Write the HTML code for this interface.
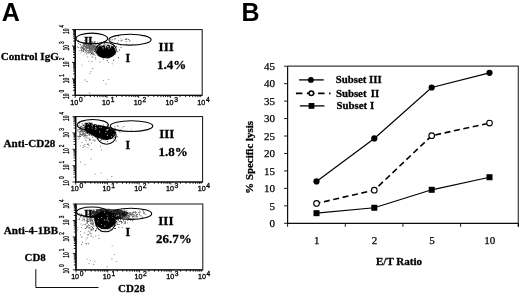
<!DOCTYPE html>
<html><head><meta charset="utf-8"><style>
html,body{margin:0;padding:0;background:#fff;width:520px;height:293px;overflow:hidden}
svg{display:block;will-change:transform}
</style></head><body>
<svg width="520" height="293" viewBox="0 0 520 293">
<defs><filter id="bl" x="0" y="0" width="520" height="293" filterUnits="userSpaceOnUse"><feGaussianBlur stdDeviation="0.35"/></filter></defs>
<rect width="520" height="293" fill="#fff"/>
<g filter="url(#bl)">
<text x="1.7" y="20.8" font-family='"Liberation Sans", sans-serif' font-weight="bold" font-size="25">A</text>
<text x="241.5" y="20.8" font-family='"Liberation Sans", sans-serif' font-weight="bold" font-size="25">B</text>
<rect x="75.2" y="29.6" width="126.99999999999999" height="65.69999999999999" fill="none" stroke="#111" stroke-width="1.0"/>
<line x1="75.2" y1="29.6" x2="75.2" y2="95.3" stroke="#000" stroke-width="1.3"/>
<line x1="75.2" y1="95.3" x2="202.2" y2="95.3" stroke="#000" stroke-width="0.9"/>
<path d="M72.0 95.30H75.2M75.20 95.3V97.9M73.0 90.36H75.2M84.76 95.3V97.1M73.0 87.46H75.2M90.35 95.3V97.1M73.0 85.41H75.2M94.32 95.3V97.1M73.0 83.82H75.2M97.39 95.3V97.1M73.0 82.52H75.2M99.91 95.3V97.1M73.0 81.42H75.2M102.03 95.3V97.1M73.0 80.47H75.2M103.87 95.3V97.1M73.0 79.63H75.2M105.50 95.3V97.1M72.0 78.88H75.2M106.95 95.3V97.9M73.0 73.93H75.2M116.51 95.3V97.1M73.0 71.04H75.2M122.10 95.3V97.1M73.0 68.99H75.2M126.07 95.3V97.1M73.0 67.39H75.2M129.14 95.3V97.1M73.0 66.09H75.2M131.66 95.3V97.1M73.0 64.99H75.2M133.78 95.3V97.1M73.0 64.04H75.2M135.62 95.3V97.1M73.0 63.20H75.2M137.25 95.3V97.1M72.0 62.45H75.2M138.70 95.3V97.9M73.0 57.51H75.2M148.26 95.3V97.1M73.0 54.61H75.2M153.85 95.3V97.1M73.0 52.56H75.2M157.82 95.3V97.1M73.0 50.97H75.2M160.89 95.3V97.1M73.0 49.67H75.2M163.41 95.3V97.1M73.0 48.57H75.2M165.53 95.3V97.1M73.0 47.62H75.2M167.37 95.3V97.1M73.0 46.78H75.2M169.00 95.3V97.1M72.0 46.03H75.2M170.45 95.3V97.9M73.0 41.08H75.2M180.01 95.3V97.1M73.0 38.19H75.2M185.60 95.3V97.1M73.0 36.14H75.2M189.57 95.3V97.1M73.0 34.54H75.2M192.64 95.3V97.1M73.0 33.24H75.2M195.16 95.3V97.1M73.0 32.14H75.2M197.28 95.3V97.1M73.0 31.19H75.2M199.12 95.3V97.1M73.0 30.35H75.2M200.75 95.3V97.1M72.0 29.60H75.2" stroke="#000" stroke-width="0.85" fill="none"/>
<g transform="translate(76.50 104.70) scale(1.05 1)"><text x="0" y="0" font-family='"Liberation Sans", sans-serif' font-size="6.8" stroke="#000" stroke-width="0.3" text-anchor="middle" fill="#000">10<tspan font-size="6.4" dx="0.6" dy="-3.0">0</tspan></text></g>
<g transform="translate(68.8 96.20) rotate(-90) scale(0.6 1)"><text x="0" y="0" font-family='"Liberation Sans", sans-serif' font-size="8.2" stroke="#000" stroke-width="0.3" text-anchor="middle" fill="#000">10</text></g>
<g transform="translate(64.3 91.10) rotate(-90) scale(0.62 1)"><text x="0" y="0" font-family='"Liberation Sans", sans-serif' font-size="7.6" stroke="#000" stroke-width="0.3" text-anchor="middle" fill="#000">0</text></g>
<g transform="translate(108.25 104.70) scale(1.05 1)"><text x="0" y="0" font-family='"Liberation Sans", sans-serif' font-size="6.8" stroke="#000" stroke-width="0.3" text-anchor="middle" fill="#000">10<tspan font-size="6.4" dx="0.6" dy="-3.0">1</tspan></text></g>
<g transform="translate(68.8 80.58) rotate(-90) scale(0.6 1)"><text x="0" y="0" font-family='"Liberation Sans", sans-serif' font-size="8.2" stroke="#000" stroke-width="0.3" text-anchor="middle" fill="#000">10</text></g>
<g transform="translate(64.3 75.47) rotate(-90) scale(0.62 1)"><text x="0" y="0" font-family='"Liberation Sans", sans-serif' font-size="7.6" stroke="#000" stroke-width="0.3" text-anchor="middle" fill="#000">1</text></g>
<g transform="translate(140.00 104.70) scale(1.05 1)"><text x="0" y="0" font-family='"Liberation Sans", sans-serif' font-size="6.8" stroke="#000" stroke-width="0.3" text-anchor="middle" fill="#000">10<tspan font-size="6.4" dx="0.6" dy="-3.0">2</tspan></text></g>
<g transform="translate(68.8 64.15) rotate(-90) scale(0.6 1)"><text x="0" y="0" font-family='"Liberation Sans", sans-serif' font-size="8.2" stroke="#000" stroke-width="0.3" text-anchor="middle" fill="#000">10</text></g>
<g transform="translate(64.3 59.05) rotate(-90) scale(0.62 1)"><text x="0" y="0" font-family='"Liberation Sans", sans-serif' font-size="7.6" stroke="#000" stroke-width="0.3" text-anchor="middle" fill="#000">2</text></g>
<g transform="translate(171.75 104.70) scale(1.05 1)"><text x="0" y="0" font-family='"Liberation Sans", sans-serif' font-size="6.8" stroke="#000" stroke-width="0.3" text-anchor="middle" fill="#000">10<tspan font-size="6.4" dx="0.6" dy="-3.0">3</tspan></text></g>
<g transform="translate(68.8 47.73) rotate(-90) scale(0.6 1)"><text x="0" y="0" font-family='"Liberation Sans", sans-serif' font-size="8.2" stroke="#000" stroke-width="0.3" text-anchor="middle" fill="#000">10</text></g>
<g transform="translate(64.3 42.63) rotate(-90) scale(0.62 1)"><text x="0" y="0" font-family='"Liberation Sans", sans-serif' font-size="7.6" stroke="#000" stroke-width="0.3" text-anchor="middle" fill="#000">3</text></g>
<g transform="translate(203.50 104.70) scale(1.05 1)"><text x="0" y="0" font-family='"Liberation Sans", sans-serif' font-size="6.8" stroke="#000" stroke-width="0.3" text-anchor="middle" fill="#000">10<tspan font-size="6.4" dx="0.6" dy="-3.0">4</tspan></text></g>
<g transform="translate(68.8 31.30) rotate(-90) scale(0.6 1)"><text x="0" y="0" font-family='"Liberation Sans", sans-serif' font-size="8.2" stroke="#000" stroke-width="0.3" text-anchor="middle" fill="#000">10</text></g>
<g transform="translate(64.3 26.20) rotate(-90) scale(0.62 1)"><text x="0" y="0" font-family='"Liberation Sans", sans-serif' font-size="7.6" stroke="#000" stroke-width="0.3" text-anchor="middle" fill="#000">4</text></g>
<text x="0.8" y="59.8" font-family='"Liberation Serif", serif' font-weight="bold" stroke="#000" stroke-width="0.28" font-size="11.1">Control IgG</text>
<text x="158.6" y="50.80" font-family='"Liberation Serif", serif' font-weight="bold" stroke="#000" stroke-width="0.28" font-size="13">III</text>
<text x="156.9" y="68.50" font-family='"Liberation Serif", serif' font-weight="bold" stroke="#000" stroke-width="0.28" font-size="13">1.4%</text>
<text x="125.4" y="62.00" font-family='"Liberation Serif", serif' font-weight="bold" stroke="#000" stroke-width="0.28" font-size="12">I</text>
<rect x="75.7" y="116.6" width="126.89999999999999" height="65.4" fill="none" stroke="#111" stroke-width="1.0"/>
<line x1="75.7" y1="116.6" x2="75.7" y2="182.0" stroke="#000" stroke-width="1.3"/>
<line x1="75.7" y1="182.0" x2="202.6" y2="182.0" stroke="#000" stroke-width="0.9"/>
<path d="M72.5 182.00H75.7M75.70 182.0V184.6M73.5 177.08H75.7M85.25 182.0V183.8M73.5 174.20H75.7M90.84 182.0V183.8M73.5 172.16H75.7M94.80 182.0V183.8M73.5 170.57H75.7M97.87 182.0V183.8M73.5 169.28H75.7M100.39 182.0V183.8M73.5 168.18H75.7M102.51 182.0V183.8M73.5 167.23H75.7M104.35 182.0V183.8M73.5 166.40H75.7M105.97 182.0V183.8M72.5 165.65H75.7M107.42 182.0V184.6M73.5 160.73H75.7M116.98 182.0V183.8M73.5 157.85H75.7M122.56 182.0V183.8M73.5 155.81H75.7M126.53 182.0V183.8M73.5 154.22H75.7M129.60 182.0V183.8M73.5 152.93H75.7M132.11 182.0V183.8M73.5 151.83H75.7M134.24 182.0V183.8M73.5 150.88H75.7M136.08 182.0V183.8M73.5 150.05H75.7M137.70 182.0V183.8M72.5 149.30H75.7M139.15 182.0V184.6M73.5 144.38H75.7M148.70 182.0V183.8M73.5 141.50H75.7M154.29 182.0V183.8M73.5 139.46H75.7M158.25 182.0V183.8M73.5 137.87H75.7M161.32 182.0V183.8M73.5 136.58H75.7M163.84 182.0V183.8M73.5 135.48H75.7M165.96 182.0V183.8M73.5 134.53H75.7M167.80 182.0V183.8M73.5 133.70H75.7M169.42 182.0V183.8M72.5 132.95H75.7M170.88 182.0V184.6M73.5 128.03H75.7M180.43 182.0V183.8M73.5 125.15H75.7M186.01 182.0V183.8M73.5 123.11H75.7M189.98 182.0V183.8M73.5 121.52H75.7M193.05 182.0V183.8M73.5 120.23H75.7M195.56 182.0V183.8M73.5 119.13H75.7M197.69 182.0V183.8M73.5 118.18H75.7M199.53 182.0V183.8M73.5 117.35H75.7M201.15 182.0V183.8M72.5 116.60H75.7" stroke="#000" stroke-width="0.85" fill="none"/>
<g transform="translate(77.00 191.40) scale(1.05 1)"><text x="0" y="0" font-family='"Liberation Sans", sans-serif' font-size="6.8" stroke="#000" stroke-width="0.3" text-anchor="middle" fill="#000">10<tspan font-size="6.4" dx="0.6" dy="-3.0">0</tspan></text></g>
<g transform="translate(68.8 182.90) rotate(-90) scale(0.6 1)"><text x="0" y="0" font-family='"Liberation Sans", sans-serif' font-size="8.2" stroke="#000" stroke-width="0.3" text-anchor="middle" fill="#000">10</text></g>
<g transform="translate(64.3 177.80) rotate(-90) scale(0.62 1)"><text x="0" y="0" font-family='"Liberation Sans", sans-serif' font-size="7.6" stroke="#000" stroke-width="0.3" text-anchor="middle" fill="#000">0</text></g>
<g transform="translate(108.72 191.40) scale(1.05 1)"><text x="0" y="0" font-family='"Liberation Sans", sans-serif' font-size="6.8" stroke="#000" stroke-width="0.3" text-anchor="middle" fill="#000">10<tspan font-size="6.4" dx="0.6" dy="-3.0">1</tspan></text></g>
<g transform="translate(68.8 167.35) rotate(-90) scale(0.6 1)"><text x="0" y="0" font-family='"Liberation Sans", sans-serif' font-size="8.2" stroke="#000" stroke-width="0.3" text-anchor="middle" fill="#000">10</text></g>
<g transform="translate(64.3 162.25) rotate(-90) scale(0.62 1)"><text x="0" y="0" font-family='"Liberation Sans", sans-serif' font-size="7.6" stroke="#000" stroke-width="0.3" text-anchor="middle" fill="#000">1</text></g>
<g transform="translate(140.45 191.40) scale(1.05 1)"><text x="0" y="0" font-family='"Liberation Sans", sans-serif' font-size="6.8" stroke="#000" stroke-width="0.3" text-anchor="middle" fill="#000">10<tspan font-size="6.4" dx="0.6" dy="-3.0">2</tspan></text></g>
<g transform="translate(68.8 151.00) rotate(-90) scale(0.6 1)"><text x="0" y="0" font-family='"Liberation Sans", sans-serif' font-size="8.2" stroke="#000" stroke-width="0.3" text-anchor="middle" fill="#000">10</text></g>
<g transform="translate(64.3 145.90) rotate(-90) scale(0.62 1)"><text x="0" y="0" font-family='"Liberation Sans", sans-serif' font-size="7.6" stroke="#000" stroke-width="0.3" text-anchor="middle" fill="#000">2</text></g>
<g transform="translate(172.18 191.40) scale(1.05 1)"><text x="0" y="0" font-family='"Liberation Sans", sans-serif' font-size="6.8" stroke="#000" stroke-width="0.3" text-anchor="middle" fill="#000">10<tspan font-size="6.4" dx="0.6" dy="-3.0">3</tspan></text></g>
<g transform="translate(68.8 134.65) rotate(-90) scale(0.6 1)"><text x="0" y="0" font-family='"Liberation Sans", sans-serif' font-size="8.2" stroke="#000" stroke-width="0.3" text-anchor="middle" fill="#000">10</text></g>
<g transform="translate(64.3 129.55) rotate(-90) scale(0.62 1)"><text x="0" y="0" font-family='"Liberation Sans", sans-serif' font-size="7.6" stroke="#000" stroke-width="0.3" text-anchor="middle" fill="#000">3</text></g>
<g transform="translate(203.90 191.40) scale(1.05 1)"><text x="0" y="0" font-family='"Liberation Sans", sans-serif' font-size="6.8" stroke="#000" stroke-width="0.3" text-anchor="middle" fill="#000">10<tspan font-size="6.4" dx="0.6" dy="-3.0">4</tspan></text></g>
<g transform="translate(68.8 118.30) rotate(-90) scale(0.6 1)"><text x="0" y="0" font-family='"Liberation Sans", sans-serif' font-size="8.2" stroke="#000" stroke-width="0.3" text-anchor="middle" fill="#000">10</text></g>
<g transform="translate(64.3 113.20) rotate(-90) scale(0.62 1)"><text x="0" y="0" font-family='"Liberation Sans", sans-serif' font-size="7.6" stroke="#000" stroke-width="0.3" text-anchor="middle" fill="#000">4</text></g>
<text x="3.6" y="146.6" font-family='"Liberation Serif", serif' font-weight="bold" stroke="#000" stroke-width="0.28" font-size="11.1">Anti-CD28</text>
<text x="159.2" y="137.80" font-family='"Liberation Serif", serif' font-weight="bold" stroke="#000" stroke-width="0.28" font-size="13">III</text>
<text x="158.6" y="155.50" font-family='"Liberation Serif", serif' font-weight="bold" stroke="#000" stroke-width="0.28" font-size="13">1.8%</text>
<text x="125.4" y="149.00" font-family='"Liberation Serif", serif' font-weight="bold" stroke="#000" stroke-width="0.28" font-size="12">I</text>
<rect x="76.0" y="204.0" width="126.79999999999998" height="65.89999999999998" fill="none" stroke="#111" stroke-width="1.0"/>
<line x1="76.0" y1="204.0" x2="76.0" y2="269.9" stroke="#000" stroke-width="1.3"/>
<line x1="76.0" y1="269.9" x2="202.79999999999998" y2="269.9" stroke="#000" stroke-width="0.9"/>
<path d="M72.8 269.90H76.0M76.00 269.9V272.5M73.8 264.94H76.0M85.54 269.9V271.7M73.8 262.04H76.0M91.12 269.9V271.7M73.8 259.98H76.0M95.09 269.9V271.7M73.8 258.38H76.0M98.16 269.9V271.7M73.8 257.08H76.0M100.67 269.9V271.7M73.8 255.98H76.0M102.79 269.9V271.7M73.8 255.02H76.0M104.63 269.9V271.7M73.8 254.18H76.0M106.25 269.9V271.7M72.8 253.42H76.0M107.70 269.9V272.5M73.8 248.47H76.0M117.24 269.9V271.7M73.8 245.56H76.0M122.82 269.9V271.7M73.8 243.51H76.0M126.79 269.9V271.7M73.8 241.91H76.0M129.86 269.9V271.7M73.8 240.60H76.0M132.37 269.9V271.7M73.8 239.50H76.0M134.49 269.9V271.7M73.8 238.55H76.0M136.33 269.9V271.7M73.8 237.70H76.0M137.95 269.9V271.7M72.8 236.95H76.0M139.40 269.9V272.5M73.8 231.99H76.0M148.94 269.9V271.7M73.8 229.09H76.0M154.52 269.9V271.7M73.8 227.03H76.0M158.49 269.9V271.7M73.8 225.43H76.0M161.56 269.9V271.7M73.8 224.13H76.0M164.07 269.9V271.7M73.8 223.03H76.0M166.19 269.9V271.7M73.8 222.07H76.0M168.03 269.9V271.7M73.8 221.23H76.0M169.65 269.9V271.7M72.8 220.47H76.0M171.10 269.9V272.5M73.8 215.52H76.0M180.64 269.9V271.7M73.8 212.61H76.0M186.22 269.9V271.7M73.8 210.56H76.0M190.19 269.9V271.7M73.8 208.96H76.0M193.26 269.9V271.7M73.8 207.65H76.0M195.77 269.9V271.7M73.8 206.55H76.0M197.89 269.9V271.7M73.8 205.60H76.0M199.73 269.9V271.7M73.8 204.75H76.0M201.35 269.9V271.7M72.8 204.00H76.0" stroke="#000" stroke-width="0.85" fill="none"/>
<g transform="translate(77.30 279.30) scale(1.05 1)"><text x="0" y="0" font-family='"Liberation Sans", sans-serif' font-size="6.8" stroke="#000" stroke-width="0.3" text-anchor="middle" fill="#000">10<tspan font-size="6.4" dx="0.6" dy="-3.0">0</tspan></text></g>
<g transform="translate(68.8 270.80) rotate(-90) scale(0.6 1)"><text x="0" y="0" font-family='"Liberation Sans", sans-serif' font-size="8.2" stroke="#000" stroke-width="0.3" text-anchor="middle" fill="#000">10</text></g>
<g transform="translate(64.3 265.70) rotate(-90) scale(0.62 1)"><text x="0" y="0" font-family='"Liberation Sans", sans-serif' font-size="7.6" stroke="#000" stroke-width="0.3" text-anchor="middle" fill="#000">0</text></g>
<g transform="translate(109.00 279.30) scale(1.05 1)"><text x="0" y="0" font-family='"Liberation Sans", sans-serif' font-size="6.8" stroke="#000" stroke-width="0.3" text-anchor="middle" fill="#000">10<tspan font-size="6.4" dx="0.6" dy="-3.0">1</tspan></text></g>
<g transform="translate(68.8 255.12) rotate(-90) scale(0.6 1)"><text x="0" y="0" font-family='"Liberation Sans", sans-serif' font-size="8.2" stroke="#000" stroke-width="0.3" text-anchor="middle" fill="#000">10</text></g>
<g transform="translate(64.3 250.02) rotate(-90) scale(0.62 1)"><text x="0" y="0" font-family='"Liberation Sans", sans-serif' font-size="7.6" stroke="#000" stroke-width="0.3" text-anchor="middle" fill="#000">1</text></g>
<g transform="translate(140.70 279.30) scale(1.05 1)"><text x="0" y="0" font-family='"Liberation Sans", sans-serif' font-size="6.8" stroke="#000" stroke-width="0.3" text-anchor="middle" fill="#000">10<tspan font-size="6.4" dx="0.6" dy="-3.0">2</tspan></text></g>
<g transform="translate(68.8 238.65) rotate(-90) scale(0.6 1)"><text x="0" y="0" font-family='"Liberation Sans", sans-serif' font-size="8.2" stroke="#000" stroke-width="0.3" text-anchor="middle" fill="#000">10</text></g>
<g transform="translate(64.3 233.55) rotate(-90) scale(0.62 1)"><text x="0" y="0" font-family='"Liberation Sans", sans-serif' font-size="7.6" stroke="#000" stroke-width="0.3" text-anchor="middle" fill="#000">2</text></g>
<g transform="translate(172.40 279.30) scale(1.05 1)"><text x="0" y="0" font-family='"Liberation Sans", sans-serif' font-size="6.8" stroke="#000" stroke-width="0.3" text-anchor="middle" fill="#000">10<tspan font-size="6.4" dx="0.6" dy="-3.0">3</tspan></text></g>
<g transform="translate(68.8 222.17) rotate(-90) scale(0.6 1)"><text x="0" y="0" font-family='"Liberation Sans", sans-serif' font-size="8.2" stroke="#000" stroke-width="0.3" text-anchor="middle" fill="#000">10</text></g>
<g transform="translate(64.3 217.07) rotate(-90) scale(0.62 1)"><text x="0" y="0" font-family='"Liberation Sans", sans-serif' font-size="7.6" stroke="#000" stroke-width="0.3" text-anchor="middle" fill="#000">3</text></g>
<g transform="translate(204.10 279.30) scale(1.05 1)"><text x="0" y="0" font-family='"Liberation Sans", sans-serif' font-size="6.8" stroke="#000" stroke-width="0.3" text-anchor="middle" fill="#000">10<tspan font-size="6.4" dx="0.6" dy="-3.0">4</tspan></text></g>
<g transform="translate(68.8 205.70) rotate(-90) scale(0.6 1)"><text x="0" y="0" font-family='"Liberation Sans", sans-serif' font-size="8.2" stroke="#000" stroke-width="0.3" text-anchor="middle" fill="#000">10</text></g>
<g transform="translate(64.3 200.60) rotate(-90) scale(0.62 1)"><text x="0" y="0" font-family='"Liberation Sans", sans-serif' font-size="7.6" stroke="#000" stroke-width="0.3" text-anchor="middle" fill="#000">4</text></g>
<text x="3.8" y="233.6" font-family='"Liberation Serif", serif' font-weight="bold" stroke="#000" stroke-width="0.28" font-size="11.1">Anti-4-1BB</text>
<text x="158.3" y="225.20" font-family='"Liberation Serif", serif' font-weight="bold" stroke="#000" stroke-width="0.28" font-size="13">III</text>
<text x="156.0" y="242.90" font-family='"Liberation Serif", serif' font-weight="bold" stroke="#000" stroke-width="0.28" font-size="13">26.7%</text>
<text x="125.4" y="236.40" font-family='"Liberation Serif", serif' font-weight="bold" stroke="#000" stroke-width="0.28" font-size="12">I</text>
<path d="M89.5 48.8h0.9v0.9h-0.9zM88.1 45.5h0.9v0.9h-0.9zM87.2 45.2h0.9v0.9h-0.9zM89.8 51.8h0.9v0.9h-0.9zM87.0 46.3h0.9v0.9h-0.9zM91.9 49.0h0.9v0.9h-0.9zM90.0 45.4h0.9v0.9h-0.9zM89.4 49.9h0.9v0.9h-0.9zM82.8 46.7h0.9v0.9h-0.9zM80.0 44.4h0.9v0.9h-0.9zM80.3 47.3h0.9v0.9h-0.9zM83.2 48.8h0.9v0.9h-0.9zM90.3 47.5h0.9v0.9h-0.9zM76.9 46.5h0.9v0.9h-0.9zM89.3 48.3h0.9v0.9h-0.9zM81.8 46.7h0.9v0.9h-0.9zM84.6 45.7h0.9v0.9h-0.9zM94.8 45.7h0.9v0.9h-0.9zM89.3 50.5h0.9v0.9h-0.9zM86.6 47.7h0.9v0.9h-0.9zM90.1 48.2h0.9v0.9h-0.9zM83.4 48.2h0.9v0.9h-0.9zM96.3 43.7h0.9v0.9h-0.9zM93.8 48.3h0.9v0.9h-0.9zM86.3 53.6h0.9v0.9h-0.9zM93.3 44.6h0.9v0.9h-0.9zM89.9 49.6h0.9v0.9h-0.9zM88.6 49.9h0.9v0.9h-0.9zM89.2 49.9h0.9v0.9h-0.9zM96.7 46.1h0.9v0.9h-0.9zM90.5 46.7h0.9v0.9h-0.9zM90.1 44.7h0.9v0.9h-0.9zM86.6 47.5h0.9v0.9h-0.9zM94.0 51.2h0.9v0.9h-0.9zM82.9 45.8h0.9v0.9h-0.9zM87.2 47.7h0.9v0.9h-0.9zM95.8 49.9h0.9v0.9h-0.9zM87.9 47.0h0.9v0.9h-0.9zM88.2 52.3h0.9v0.9h-0.9zM87.4 47.1h0.9v0.9h-0.9zM91.3 47.7h0.9v0.9h-0.9zM88.5 44.9h0.9v0.9h-0.9zM89.4 46.8h0.9v0.9h-0.9zM95.3 49.8h0.9v0.9h-0.9zM89.4 49.9h0.9v0.9h-0.9zM87.8 50.9h0.9v0.9h-0.9zM89.5 49.6h0.9v0.9h-0.9zM83.0 49.0h0.9v0.9h-0.9zM88.0 45.5h0.9v0.9h-0.9zM90.3 54.3h0.9v0.9h-0.9zM85.3 46.3h0.9v0.9h-0.9zM90.5 49.4h0.9v0.9h-0.9zM88.6 47.4h0.9v0.9h-0.9zM93.0 49.5h0.9v0.9h-0.9zM84.3 47.8h0.9v0.9h-0.9zM89.7 45.0h0.9v0.9h-0.9zM90.8 45.6h0.9v0.9h-0.9zM94.4 48.5h0.9v0.9h-0.9zM89.9 46.3h0.9v0.9h-0.9zM83.8 49.0h0.9v0.9h-0.9zM78.9 50.4h0.9v0.9h-0.9zM80.8 50.1h0.9v0.9h-0.9zM85.3 50.2h0.9v0.9h-0.9zM90.2 43.7h0.9v0.9h-0.9zM95.7 52.0h0.9v0.9h-0.9zM89.2 47.2h0.9v0.9h-0.9zM88.7 45.3h0.9v0.9h-0.9zM95.0 46.5h0.9v0.9h-0.9zM89.2 45.8h0.9v0.9h-0.9zM86.4 44.4h0.9v0.9h-0.9zM95.8 47.6h0.9v0.9h-0.9zM94.3 48.0h0.9v0.9h-0.9zM86.0 47.1h0.9v0.9h-0.9zM86.7 48.0h0.9v0.9h-0.9zM87.6 47.2h0.9v0.9h-0.9zM82.6 45.7h0.9v0.9h-0.9zM97.8 46.1h0.9v0.9h-0.9zM84.2 48.9h0.9v0.9h-0.9zM96.5 43.9h0.9v0.9h-0.9zM88.5 46.2h0.9v0.9h-0.9zM80.7 50.1h0.9v0.9h-0.9zM89.4 48.2h0.9v0.9h-0.9zM85.7 49.3h0.9v0.9h-0.9zM86.8 47.6h0.9v0.9h-0.9zM84.0 44.6h0.9v0.9h-0.9zM96.2 46.6h0.9v0.9h-0.9zM91.0 47.9h0.9v0.9h-0.9zM87.3 46.6h0.9v0.9h-0.9zM92.7 47.2h0.9v0.9h-0.9zM88.7 48.1h0.9v0.9h-0.9zM95.4 49.9h0.9v0.9h-0.9zM91.4 46.4h0.9v0.9h-0.9zM82.6 50.7h0.9v0.9h-0.9zM94.3 47.6h0.9v0.9h-0.9zM92.2 50.2h0.9v0.9h-0.9zM93.7 50.6h0.9v0.9h-0.9zM87.2 52.2h0.9v0.9h-0.9zM83.3 50.4h0.9v0.9h-0.9zM92.0 50.4h0.9v0.9h-0.9zM98.9 52.2h0.9v0.9h-0.9zM93.6 45.2h0.9v0.9h-0.9zM89.4 50.4h0.9v0.9h-0.9zM90.8 48.1h0.9v0.9h-0.9zM88.3 48.1h0.9v0.9h-0.9zM85.2 43.8h0.9v0.9h-0.9zM88.7 45.3h0.9v0.9h-0.9zM81.3 49.4h0.9v0.9h-0.9zM89.2 49.1h0.9v0.9h-0.9zM84.6 46.2h0.9v0.9h-0.9zM84.5 45.5h0.9v0.9h-0.9zM90.5 45.8h0.9v0.9h-0.9zM91.3 49.0h0.9v0.9h-0.9zM99.6 44.1h0.9v0.9h-0.9zM93.9 47.7h0.9v0.9h-0.9zM89.4 43.9h0.9v0.9h-0.9zM87.2 50.1h0.9v0.9h-0.9zM89.1 48.2h0.9v0.9h-0.9zM88.0 51.2h0.9v0.9h-0.9zM96.2 48.1h0.9v0.9h-0.9zM83.6 45.4h0.9v0.9h-0.9zM95.2 48.4h0.9v0.9h-0.9zM89.7 47.9h0.9v0.9h-0.9zM89.7 50.3h0.9v0.9h-0.9zM92.3 48.6h0.9v0.9h-0.9zM84.3 49.4h0.9v0.9h-0.9zM86.1 51.1h0.9v0.9h-0.9zM83.1 47.6h0.9v0.9h-0.9zM89.5 44.3h0.9v0.9h-0.9zM98.1 52.1h0.9v0.9h-0.9zM87.2 50.2h0.9v0.9h-0.9zM90.8 47.8h0.9v0.9h-0.9zM89.9 45.0h0.9v0.9h-0.9zM88.2 47.5h0.9v0.9h-0.9zM95.4 48.9h0.9v0.9h-0.9zM89.5 52.3h0.9v0.9h-0.9zM86.7 46.9h0.9v0.9h-0.9zM80.4 52.4h0.9v0.9h-0.9zM94.3 50.6h0.9v0.9h-0.9zM92.8 48.3h0.9v0.9h-0.9zM90.6 47.3h0.9v0.9h-0.9zM88.5 48.2h0.9v0.9h-0.9zM97.1 49.6h0.9v0.9h-0.9zM89.2 46.4h0.9v0.9h-0.9zM86.3 52.5h0.9v0.9h-0.9zM92.0 48.2h0.9v0.9h-0.9zM87.8 44.9h0.9v0.9h-0.9zM89.2 50.4h0.9v0.9h-0.9zM87.5 47.4h0.9v0.9h-0.9zM88.4 48.3h0.9v0.9h-0.9zM81.5 47.3h0.9v0.9h-0.9zM85.2 50.5h0.9v0.9h-0.9zM85.6 49.6h0.9v0.9h-0.9zM97.1 47.1h0.9v0.9h-0.9zM86.5 48.5h0.9v0.9h-0.9zM89.5 45.2h0.9v0.9h-0.9zM91.8 53.6h0.9v0.9h-0.9zM88.2 47.4h0.9v0.9h-0.9zM84.3 48.9h0.9v0.9h-0.9zM83.3 44.9h0.9v0.9h-0.9zM95.9 45.5h0.9v0.9h-0.9zM94.9 52.3h0.9v0.9h-0.9zM90.8 49.5h0.9v0.9h-0.9zM99.3 47.4h0.9v0.9h-0.9zM86.5 44.2h0.9v0.9h-0.9zM89.7 52.1h0.9v0.9h-0.9zM94.3 45.4h0.9v0.9h-0.9zM85.2 46.6h0.9v0.9h-0.9zM91.0 47.4h0.9v0.9h-0.9zM90.6 48.8h0.9v0.9h-0.9zM88.0 47.9h0.9v0.9h-0.9zM90.5 47.8h0.9v0.9h-0.9zM92.0 53.2h0.9v0.9h-0.9zM92.5 48.2h0.9v0.9h-0.9zM81.1 49.1h0.9v0.9h-0.9zM79.8 44.1h0.9v0.9h-0.9zM93.8 50.0h0.9v0.9h-0.9zM87.6 46.1h0.9v0.9h-0.9zM92.7 54.3h0.9v0.9h-0.9zM90.6 45.8h0.9v0.9h-0.9zM83.6 47.8h0.9v0.9h-0.9zM88.6 44.8h0.9v0.9h-0.9zM90.1 44.8h0.9v0.9h-0.9zM95.1 51.0h0.9v0.9h-0.9zM94.9 46.7h0.9v0.9h-0.9zM92.1 47.6h0.9v0.9h-0.9zM87.6 47.1h0.9v0.9h-0.9zM83.0 44.0h0.9v0.9h-0.9zM93.5 47.5h0.9v0.9h-0.9zM90.6 50.8h0.9v0.9h-0.9zM80.8 45.8h0.9v0.9h-0.9zM90.4 49.1h0.9v0.9h-0.9zM87.6 50.9h0.9v0.9h-0.9zM90.6 44.6h0.9v0.9h-0.9zM84.8 50.3h0.9v0.9h-0.9zM96.2 49.7h0.9v0.9h-0.9zM96.2 46.9h0.9v0.9h-0.9zM88.0 44.8h0.9v0.9h-0.9zM102.2 47.5h0.9v0.9h-0.9zM97.4 46.2h0.9v0.9h-0.9zM90.3 43.3h0.9v0.9h-0.9zM87.6 50.8h0.9v0.9h-0.9zM83.2 51.0h0.9v0.9h-0.9zM91.2 45.1h0.9v0.9h-0.9zM87.0 46.7h0.9v0.9h-0.9zM89.3 46.5h0.9v0.9h-0.9zM85.4 47.1h0.9v0.9h-0.9zM84.4 44.4h0.9v0.9h-0.9zM89.3 50.5h0.9v0.9h-0.9zM81.9 48.0h0.9v0.9h-0.9zM86.3 45.3h0.9v0.9h-0.9zM93.8 46.5h0.9v0.9h-0.9zM97.0 45.8h0.9v0.9h-0.9zM91.4 47.4h0.9v0.9h-0.9zM85.7 49.6h0.9v0.9h-0.9zM88.7 49.7h0.9v0.9h-0.9zM89.3 45.0h0.9v0.9h-0.9zM89.0 48.1h0.9v0.9h-0.9zM94.3 45.5h0.9v0.9h-0.9zM92.8 45.0h0.9v0.9h-0.9zM80.5 47.8h0.9v0.9h-0.9zM95.0 43.7h0.9v0.9h-0.9zM84.1 45.9h0.9v0.9h-0.9zM83.9 49.1h0.9v0.9h-0.9zM85.5 46.0h0.9v0.9h-0.9zM92.4 45.9h0.9v0.9h-0.9zM91.7 45.3h0.9v0.9h-0.9zM98.8 47.1h0.9v0.9h-0.9zM90.7 47.9h0.9v0.9h-0.9zM90.3 48.1h0.9v0.9h-0.9zM99.0 45.1h0.9v0.9h-0.9zM81.7 45.2h0.9v0.9h-0.9zM82.8 50.1h0.9v0.9h-0.9zM93.6 45.3h0.9v0.9h-0.9zM82.5 47.0h0.9v0.9h-0.9zM92.1 45.0h0.9v0.9h-0.9zM94.7 45.0h0.9v0.9h-0.9zM88.1 43.8h0.9v0.9h-0.9zM84.6 51.9h0.9v0.9h-0.9zM93.6 46.9h0.9v0.9h-0.9zM87.5 47.9h0.9v0.9h-0.9zM89.1 47.7h0.9v0.9h-0.9zM83.9 47.8h0.9v0.9h-0.9zM89.3 51.6h0.9v0.9h-0.9zM98.8 47.6h0.9v0.9h-0.9zM85.7 47.8h0.9v0.9h-0.9zM86.5 45.9h0.9v0.9h-0.9zM89.2 45.1h0.9v0.9h-0.9zM92.5 47.7h0.9v0.9h-0.9zM90.8 47.5h0.9v0.9h-0.9zM85.9 45.3h0.9v0.9h-0.9zM88.3 46.5h0.9v0.9h-0.9zM90.7 48.0h0.9v0.9h-0.9zM82.7 48.2h0.9v0.9h-0.9zM82.8 46.3h0.9v0.9h-0.9zM90.0 48.4h0.9v0.9h-0.9zM88.7 46.8h0.9v0.9h-0.9zM87.6 45.3h0.9v0.9h-0.9zM88.2 46.5h0.9v0.9h-0.9zM90.0 44.6h0.9v0.9h-0.9zM90.7 48.4h0.9v0.9h-0.9zM88.8 46.8h0.9v0.9h-0.9zM92.3 43.3h0.9v0.9h-0.9zM91.8 48.7h0.9v0.9h-0.9zM90.9 49.1h0.9v0.9h-0.9zM86.2 47.3h0.9v0.9h-0.9zM92.7 49.2h0.9v0.9h-0.9zM90.5 43.8h0.9v0.9h-0.9zM92.2 51.3h0.9v0.9h-0.9zM94.5 48.7h0.9v0.9h-0.9zM81.7 50.6h0.9v0.9h-0.9zM91.4 43.8h0.9v0.9h-0.9zM83.0 46.2h0.9v0.9h-0.9zM95.9 47.0h0.9v0.9h-0.9zM90.9 52.9h0.9v0.9h-0.9zM97.5 47.7h0.9v0.9h-0.9zM88.3 44.5h0.9v0.9h-0.9zM86.0 49.2h0.9v0.9h-0.9zM91.5 48.3h0.9v0.9h-0.9zM94.5 45.8h0.9v0.9h-0.9zM89.2 50.0h0.9v0.9h-0.9zM92.4 51.0h0.9v0.9h-0.9zM91.5 47.1h0.9v0.9h-0.9zM91.3 45.2h0.9v0.9h-0.9zM81.3 49.6h0.9v0.9h-0.9zM89.2 48.9h0.9v0.9h-0.9zM81.0 47.0h0.9v0.9h-0.9zM86.5 45.6h0.9v0.9h-0.9zM78.2 47.1h0.9v0.9h-0.9zM94.0 49.1h0.9v0.9h-0.9zM86.5 48.0h0.9v0.9h-0.9zM88.9 49.5h0.9v0.9h-0.9zM92.9 52.8h0.9v0.9h-0.9zM95.2 48.9h0.9v0.9h-0.9zM91.0 50.2h0.9v0.9h-0.9zM86.8 47.9h0.9v0.9h-0.9zM94.0 53.5h0.9v0.9h-0.9zM88.7 47.9h0.9v0.9h-0.9zM90.5 51.8h0.9v0.9h-0.9zM89.3 52.1h0.9v0.9h-0.9zM84.7 47.5h0.9v0.9h-0.9zM88.5 50.2h0.9v0.9h-0.9zM94.7 43.8h0.9v0.9h-0.9zM82.5 43.0h0.9v0.9h-0.9zM84.0 40.2h0.9v0.9h-0.9zM94.2 43.2h0.9v0.9h-0.9zM91.0 41.8h0.9v0.9h-0.9zM94.2 42.1h0.9v0.9h-0.9zM94.6 41.1h0.9v0.9h-0.9zM82.9 42.8h0.9v0.9h-0.9zM83.8 43.5h0.9v0.9h-0.9zM89.6 41.1h0.9v0.9h-0.9zM88.4 42.0h0.9v0.9h-0.9zM93.5 41.6h0.9v0.9h-0.9zM85.4 44.3h0.9v0.9h-0.9zM101.4 45.5h0.9v0.9h-0.9zM88.4 42.8h0.9v0.9h-0.9zM97.2 42.3h0.9v0.9h-0.9zM82.1 42.7h0.9v0.9h-0.9zM90.7 41.3h0.9v0.9h-0.9zM78.1 40.3h0.9v0.9h-0.9zM92.0 41.4h0.9v0.9h-0.9zM87.2 42.8h0.9v0.9h-0.9zM91.7 42.0h0.9v0.9h-0.9zM91.0 41.2h0.9v0.9h-0.9zM85.8 41.0h0.9v0.9h-0.9zM94.8 42.5h0.9v0.9h-0.9zM83.6 42.0h0.9v0.9h-0.9zM86.7 43.6h0.9v0.9h-0.9zM78.4 40.9h0.9v0.9h-0.9zM85.7 46.3h0.9v0.9h-0.9zM93.7 42.3h0.9v0.9h-0.9zM92.3 45.6h0.9v0.9h-0.9zM86.6 42.0h0.9v0.9h-0.9zM95.3 43.2h0.9v0.9h-0.9zM92.0 41.7h0.9v0.9h-0.9zM99.5 45.1h0.9v0.9h-0.9zM91.4 43.5h0.9v0.9h-0.9zM86.8 43.2h0.9v0.9h-0.9zM92.1 42.0h0.9v0.9h-0.9zM77.9 43.1h0.9v0.9h-0.9zM83.6 42.0h0.9v0.9h-0.9zM84.4 42.0h0.9v0.9h-0.9zM89.5 44.2h0.9v0.9h-0.9zM99.9 42.5h0.9v0.9h-0.9zM77.2 41.2h0.9v0.9h-0.9zM80.8 41.7h0.9v0.9h-0.9zM88.5 39.5h0.9v0.9h-0.9zM90.1 40.2h0.9v0.9h-0.9zM89.8 42.3h0.9v0.9h-0.9zM86.1 42.4h0.9v0.9h-0.9zM92.7 51.7h0.9v0.9h-0.9zM83.5 54.4h0.9v0.9h-0.9zM111.8 63.4h0.9v0.9h-0.9zM107.6 57.7h0.9v0.9h-0.9zM91.6 61.0h0.9v0.9h-0.9zM96.6 54.2h0.9v0.9h-0.9zM94.7 54.9h0.9v0.9h-0.9zM93.5 54.1h0.9v0.9h-0.9zM88.3 52.8h0.9v0.9h-0.9zM115.2 54.2h0.9v0.9h-0.9zM95.1 56.9h0.9v0.9h-0.9zM102.7 49.5h0.9v0.9h-0.9zM95.3 58.6h0.9v0.9h-0.9zM99.2 55.0h0.9v0.9h-0.9zM109.4 51.5h0.9v0.9h-0.9zM97.7 52.2h0.9v0.9h-0.9zM108.9 45.7h0.9v0.9h-0.9zM91.6 52.1h0.9v0.9h-0.9zM102.3 57.2h0.9v0.9h-0.9zM108.2 47.4h0.9v0.9h-0.9zM103.0 53.2h0.9v0.9h-0.9zM91.7 56.9h0.9v0.9h-0.9zM89.6 45.2h0.9v0.9h-0.9zM94.0 47.8h0.9v0.9h-0.9zM91.8 56.2h0.9v0.9h-0.9zM99.5 61.6h0.9v0.9h-0.9zM95.4 47.6h0.9v0.9h-0.9zM91.0 50.4h0.9v0.9h-0.9zM87.3 56.5h0.9v0.9h-0.9zM91.8 45.6h0.9v0.9h-0.9zM102.6 54.0h0.9v0.9h-0.9zM99.9 55.0h0.9v0.9h-0.9zM102.1 54.7h0.9v0.9h-0.9zM106.9 56.4h0.9v0.9h-0.9zM100.1 56.3h0.9v0.9h-0.9zM86.6 81.1h0.9v0.9h-0.9zM88.4 60.7h0.9v0.9h-0.9zM89.5 73.2h0.9v0.9h-0.9zM108.2 79.2h0.9v0.9h-0.9zM92.3 68.1h0.9v0.9h-0.9zM90.3 71.3h0.9v0.9h-0.9zM103.1 80.2h0.9v0.9h-0.9zM84.6 79.6h0.9v0.9h-0.9zM81.4 64.7h0.9v0.9h-0.9zM105.6 83.5h0.9v0.9h-0.9zM108.0 62.2h0.9v0.9h-0.9zM89.2 92.5h0.9v0.9h-0.9zM118.1 39.9h0.9v0.9h-0.9zM115.1 38.3h0.9v0.9h-0.9zM118.1 36.2h0.9v0.9h-0.9zM112.3 39.3h0.9v0.9h-0.9zM121.9 39.7h0.9v0.9h-0.9zM110.4 39.2h0.9v0.9h-0.9zM125.8 41.0h0.9v0.9h-0.9zM120.5 38.4h0.9v0.9h-0.9zM124.8 39.0h0.9v0.9h-0.9zM114.0 38.6h0.9v0.9h-0.9zM129.7 40.4h0.9v0.9h-0.9zM128.0 39.1h0.9v0.9h-0.9zM126.6 38.9h0.9v0.9h-0.9zM120.1 44.5h0.9v0.9h-0.9zM125.6 39.1h0.9v0.9h-0.9zM120.5 40.6h0.9v0.9h-0.9zM128.3 39.1h0.9v0.9h-0.9zM110.6 39.5h0.9v0.9h-0.9zM121.1 40.2h0.9v0.9h-0.9zM128.9 40.6h0.9v0.9h-0.9zM125.9 38.0h0.9v0.9h-0.9zM126.2 43.8h0.9v0.9h-0.9z" fill="#000" opacity="0.6"/>
<ellipse cx="106.00" cy="51.00" rx="9.60" ry="6.60" fill="#000" stroke="#000" stroke-width="0" opacity="1"/>
<path d="M110.9 51.5h0.9v0.9h-0.9zM106.9 57.6h0.9v0.9h-0.9zM99.9 50.1h0.9v0.9h-0.9zM108.9 53.5h0.9v0.9h-0.9zM103.1 51.7h0.9v0.9h-0.9zM104.1 51.0h0.9v0.9h-0.9zM105.0 45.9h0.9v0.9h-0.9zM105.8 54.0h0.9v0.9h-0.9zM99.6 49.5h0.9v0.9h-0.9zM110.2 46.2h0.9v0.9h-0.9zM107.1 46.3h0.9v0.9h-0.9zM113.3 59.8h0.9v0.9h-0.9zM119.0 49.6h0.9v0.9h-0.9zM110.7 51.0h0.9v0.9h-0.9zM106.6 56.7h0.9v0.9h-0.9zM97.3 54.7h0.9v0.9h-0.9zM105.6 56.1h0.9v0.9h-0.9zM107.1 47.8h0.9v0.9h-0.9zM107.7 53.4h0.9v0.9h-0.9zM106.1 52.5h0.9v0.9h-0.9zM102.5 42.0h0.9v0.9h-0.9zM111.8 53.3h0.9v0.9h-0.9zM106.9 50.8h0.9v0.9h-0.9zM112.6 48.7h0.9v0.9h-0.9zM101.3 49.7h0.9v0.9h-0.9zM113.6 45.0h0.9v0.9h-0.9zM113.6 47.9h0.9v0.9h-0.9zM98.7 55.5h0.9v0.9h-0.9zM105.3 45.3h0.9v0.9h-0.9zM103.6 54.2h0.9v0.9h-0.9zM113.6 48.8h0.9v0.9h-0.9zM108.5 53.4h0.9v0.9h-0.9zM101.7 51.9h0.9v0.9h-0.9zM105.7 48.4h0.9v0.9h-0.9zM102.7 50.8h0.9v0.9h-0.9zM106.1 48.2h0.9v0.9h-0.9zM103.1 55.0h0.9v0.9h-0.9zM107.3 54.0h0.9v0.9h-0.9zM113.7 52.9h0.9v0.9h-0.9zM120.7 47.2h0.9v0.9h-0.9zM111.2 49.2h0.9v0.9h-0.9zM118.0 57.3h0.9v0.9h-0.9zM93.2 46.6h0.9v0.9h-0.9zM110.2 53.7h0.9v0.9h-0.9zM110.7 50.2h0.9v0.9h-0.9zM108.9 53.1h0.9v0.9h-0.9zM105.4 54.6h0.9v0.9h-0.9zM91.2 53.0h0.9v0.9h-0.9zM99.2 54.3h0.9v0.9h-0.9zM104.4 46.9h0.9v0.9h-0.9zM108.3 46.9h0.9v0.9h-0.9zM100.0 44.2h0.9v0.9h-0.9zM105.7 52.5h0.9v0.9h-0.9zM112.5 49.9h0.9v0.9h-0.9zM112.7 50.6h0.9v0.9h-0.9zM105.3 52.8h0.9v0.9h-0.9zM112.8 49.1h0.9v0.9h-0.9zM104.3 49.9h0.9v0.9h-0.9zM106.4 46.9h0.9v0.9h-0.9zM112.6 48.9h0.9v0.9h-0.9zM108.9 47.2h0.9v0.9h-0.9zM108.2 52.1h0.9v0.9h-0.9zM103.2 58.6h0.9v0.9h-0.9zM108.3 57.6h0.9v0.9h-0.9zM112.1 47.9h0.9v0.9h-0.9zM103.4 52.2h0.9v0.9h-0.9zM106.3 50.7h0.9v0.9h-0.9zM104.0 43.3h0.9v0.9h-0.9zM104.4 41.6h0.9v0.9h-0.9zM108.3 47.6h0.9v0.9h-0.9zM101.2 49.6h0.9v0.9h-0.9zM107.7 44.8h0.9v0.9h-0.9zM94.5 46.2h0.9v0.9h-0.9zM92.6 46.6h0.9v0.9h-0.9zM116.2 46.3h0.9v0.9h-0.9zM110.1 45.0h0.9v0.9h-0.9zM107.8 49.2h0.9v0.9h-0.9zM105.5 52.8h0.9v0.9h-0.9zM117.3 51.3h0.9v0.9h-0.9zM106.7 46.6h0.9v0.9h-0.9zM109.7 49.5h0.9v0.9h-0.9zM111.3 50.3h0.9v0.9h-0.9zM117.2 42.6h0.9v0.9h-0.9zM104.0 54.0h0.9v0.9h-0.9zM103.6 47.3h0.9v0.9h-0.9zM104.2 45.0h0.9v0.9h-0.9zM106.7 60.3h0.9v0.9h-0.9zM113.3 46.1h0.9v0.9h-0.9zM100.2 48.9h0.9v0.9h-0.9zM112.4 47.2h0.9v0.9h-0.9z" fill="#000" opacity="0.85"/>
<path d="M102.5 47.1h0.9v0.9h-0.9zM110.3 45.6h0.9v0.9h-0.9zM100.4 44.1h0.9v0.9h-0.9zM109.7 45.2h0.9v0.9h-0.9zM108.4 48.2h0.9v0.9h-0.9zM111.9 44.6h0.9v0.9h-0.9zM110.3 47.4h0.9v0.9h-0.9zM102.3 44.9h0.9v0.9h-0.9zM105.5 44.1h0.9v0.9h-0.9zM100.5 45.7h0.9v0.9h-0.9zM104.9 46.2h0.9v0.9h-0.9zM107.4 45.7h0.9v0.9h-0.9zM106.0 45.1h0.9v0.9h-0.9zM106.7 46.3h0.9v0.9h-0.9zM101.4 45.2h0.9v0.9h-0.9zM110.0 46.4h0.9v0.9h-0.9zM102.6 48.4h0.9v0.9h-0.9zM109.9 46.3h0.9v0.9h-0.9zM105.0 45.4h0.9v0.9h-0.9zM104.9 45.3h0.9v0.9h-0.9zM109.7 45.5h0.9v0.9h-0.9zM103.8 44.6h0.9v0.9h-0.9zM105.8 44.9h0.9v0.9h-0.9zM105.1 47.3h0.9v0.9h-0.9zM107.8 46.6h0.9v0.9h-0.9z" fill="#fff" opacity="0.9"/>
<ellipse cx="106.00" cy="50.10" rx="10.20" ry="7.60" fill="none" stroke="#000" stroke-width="1.1" opacity="1"/>
<ellipse cx="91.80" cy="38.50" rx="15.80" ry="5.40" fill="none" stroke="#000" stroke-width="1.1" opacity="1"/>
<ellipse cx="130.00" cy="39.70" rx="21.10" ry="5.45" fill="none" stroke="#000" stroke-width="1.1" opacity="1"/>
<text x="84.2" y="43.50" font-family='"Liberation Serif", serif' font-weight="bold" stroke="#000" stroke-width="0.45" font-size="10.5">II</text>
<path d="M83.4 130.8h0.9v0.9h-0.9zM81.5 129.4h0.9v0.9h-0.9zM85.0 126.3h0.9v0.9h-0.9zM87.4 130.7h0.9v0.9h-0.9zM79.0 128.6h0.9v0.9h-0.9zM79.3 131.2h0.9v0.9h-0.9zM79.1 135.2h0.9v0.9h-0.9zM78.9 121.5h0.9v0.9h-0.9zM79.1 122.6h0.9v0.9h-0.9zM81.8 134.8h0.9v0.9h-0.9zM84.6 125.2h0.9v0.9h-0.9zM79.0 137.7h0.9v0.9h-0.9zM83.3 130.6h0.9v0.9h-0.9zM86.2 140.4h0.9v0.9h-0.9zM87.2 131.2h0.9v0.9h-0.9zM83.4 133.1h0.9v0.9h-0.9zM79.5 126.4h0.9v0.9h-0.9zM82.2 126.8h0.9v0.9h-0.9zM81.8 131.0h0.9v0.9h-0.9zM91.4 127.2h0.9v0.9h-0.9zM81.5 129.9h0.9v0.9h-0.9zM83.7 134.8h0.9v0.9h-0.9zM80.0 127.3h0.9v0.9h-0.9zM84.1 130.8h0.9v0.9h-0.9zM77.9 129.1h0.9v0.9h-0.9zM82.1 132.6h0.9v0.9h-0.9zM79.6 129.6h0.9v0.9h-0.9zM88.5 121.8h0.9v0.9h-0.9zM80.6 131.5h0.9v0.9h-0.9zM80.5 127.4h0.9v0.9h-0.9zM81.8 130.6h0.9v0.9h-0.9zM81.7 123.1h0.9v0.9h-0.9zM81.4 127.2h0.9v0.9h-0.9zM79.8 131.5h0.9v0.9h-0.9zM84.6 134.2h0.9v0.9h-0.9zM80.0 134.3h0.9v0.9h-0.9zM86.7 135.1h0.9v0.9h-0.9zM87.6 130.0h0.9v0.9h-0.9zM81.3 133.9h0.9v0.9h-0.9zM76.5 131.4h0.9v0.9h-0.9zM79.9 129.1h0.9v0.9h-0.9zM81.9 134.2h0.9v0.9h-0.9zM86.0 130.3h0.9v0.9h-0.9zM81.2 127.3h0.9v0.9h-0.9zM83.6 129.6h0.9v0.9h-0.9zM84.4 137.6h0.9v0.9h-0.9zM81.9 124.6h0.9v0.9h-0.9zM78.6 124.8h0.9v0.9h-0.9zM77.2 135.8h0.9v0.9h-0.9zM82.9 124.5h0.9v0.9h-0.9zM84.6 135.6h0.9v0.9h-0.9zM80.6 127.9h0.9v0.9h-0.9zM80.7 131.7h0.9v0.9h-0.9zM84.6 135.3h0.9v0.9h-0.9zM86.8 135.3h0.9v0.9h-0.9zM87.4 133.2h0.9v0.9h-0.9zM83.3 129.1h0.9v0.9h-0.9zM85.6 129.2h0.9v0.9h-0.9zM78.3 136.4h0.9v0.9h-0.9zM84.7 131.5h0.9v0.9h-0.9zM85.7 134.9h0.9v0.9h-0.9zM83.4 120.8h0.9v0.9h-0.9zM79.3 128.8h0.9v0.9h-0.9zM78.1 131.4h0.9v0.9h-0.9zM86.8 128.7h0.9v0.9h-0.9zM77.5 138.7h0.9v0.9h-0.9zM80.2 125.7h0.9v0.9h-0.9zM83.0 132.3h0.9v0.9h-0.9zM79.2 133.8h0.9v0.9h-0.9zM80.1 126.9h0.9v0.9h-0.9zM82.7 133.7h0.9v0.9h-0.9zM79.5 131.9h0.9v0.9h-0.9zM81.6 141.9h0.9v0.9h-0.9zM79.2 136.1h0.9v0.9h-0.9zM81.8 130.1h0.9v0.9h-0.9zM84.9 134.2h0.9v0.9h-0.9zM87.1 131.9h0.9v0.9h-0.9zM79.6 128.4h0.9v0.9h-0.9zM84.0 132.9h0.9v0.9h-0.9zM87.6 132.3h0.9v0.9h-0.9zM86.2 136.7h0.9v0.9h-0.9zM82.7 124.7h0.9v0.9h-0.9zM77.3 124.8h0.9v0.9h-0.9zM88.4 127.2h0.9v0.9h-0.9zM86.9 132.9h0.9v0.9h-0.9zM88.9 134.6h0.9v0.9h-0.9zM81.6 129.8h0.9v0.9h-0.9zM82.3 131.3h0.9v0.9h-0.9zM79.9 130.5h0.9v0.9h-0.9zM88.4 123.8h0.9v0.9h-0.9zM83.0 127.0h0.9v0.9h-0.9zM82.7 134.0h0.9v0.9h-0.9zM81.8 133.7h0.9v0.9h-0.9zM79.6 133.1h0.9v0.9h-0.9zM79.0 131.5h0.9v0.9h-0.9zM88.2 131.7h0.9v0.9h-0.9zM83.0 124.9h0.9v0.9h-0.9zM87.7 137.8h0.9v0.9h-0.9zM82.1 129.7h0.9v0.9h-0.9zM92.8 133.5h0.9v0.9h-0.9zM87.1 132.8h0.9v0.9h-0.9zM78.1 135.9h0.9v0.9h-0.9zM77.1 129.8h0.9v0.9h-0.9zM87.4 146.9h0.9v0.9h-0.9zM88.1 143.9h0.9v0.9h-0.9zM82.2 133.9h0.9v0.9h-0.9zM86.3 137.3h0.9v0.9h-0.9zM79.5 134.0h0.9v0.9h-0.9zM83.5 130.5h0.9v0.9h-0.9zM79.3 131.8h0.9v0.9h-0.9zM86.9 144.0h0.9v0.9h-0.9zM96.0 132.6h0.9v0.9h-0.9zM82.6 147.1h0.9v0.9h-0.9zM84.9 139.6h0.9v0.9h-0.9zM94.5 139.6h0.9v0.9h-0.9zM80.2 133.7h0.9v0.9h-0.9zM87.7 143.4h0.9v0.9h-0.9zM79.1 135.7h0.9v0.9h-0.9zM88.7 145.1h0.9v0.9h-0.9zM82.8 145.3h0.9v0.9h-0.9zM88.9 130.9h0.9v0.9h-0.9zM84.4 144.1h0.9v0.9h-0.9zM83.1 128.8h0.9v0.9h-0.9zM84.6 146.1h0.9v0.9h-0.9zM93.9 128.5h0.9v0.9h-0.9zM99.1 134.8h0.9v0.9h-0.9zM90.8 149.0h0.9v0.9h-0.9zM90.9 142.5h0.9v0.9h-0.9zM80.2 145.4h0.9v0.9h-0.9zM82.4 126.5h0.9v0.9h-0.9zM100.1 145.8h0.9v0.9h-0.9zM106.8 178.9h0.9v0.9h-0.9zM100.9 149.5h0.9v0.9h-0.9zM100.8 172.4h0.9v0.9h-0.9zM111.4 176.0h0.9v0.9h-0.9zM84.6 163.9h0.9v0.9h-0.9zM94.8 173.7h0.9v0.9h-0.9zM80.2 161.6h0.9v0.9h-0.9zM90.7 158.6h0.9v0.9h-0.9zM118.8 131.0h0.9v0.9h-0.9zM115.1 127.9h0.9v0.9h-0.9zM123.6 126.1h0.9v0.9h-0.9zM117.6 126.0h0.9v0.9h-0.9zM119.6 131.9h0.9v0.9h-0.9zM115.2 129.1h0.9v0.9h-0.9zM114.5 126.3h0.9v0.9h-0.9zM112.8 131.5h0.9v0.9h-0.9zM130.8 129.6h0.9v0.9h-0.9zM115.4 130.0h0.9v0.9h-0.9zM117.3 130.2h0.9v0.9h-0.9zM120.5 129.2h0.9v0.9h-0.9zM122.0 127.4h0.9v0.9h-0.9zM117.0 125.2h0.9v0.9h-0.9z" fill="#000" opacity="0.6"/>
<path d="M84.5 126 C88 124.2 96 124.2 102 125.6 C108 127 113 129 115 132.3 C116.5 135.5 113.5 139.5 107 140 C101 140.3 96 137.5 91.5 134.8 C87 133 83.5 130.5 84.5 126Z" fill="#000"/>
<path d="M94.0 123.9h0.9v0.9h-0.9zM96.5 126.6h0.9v0.9h-0.9zM97.6 133.3h0.9v0.9h-0.9zM83.9 124.6h0.9v0.9h-0.9zM87.1 132.4h0.9v0.9h-0.9zM112.9 138.4h0.9v0.9h-0.9zM92.2 136.8h0.9v0.9h-0.9zM80.8 134.6h0.9v0.9h-0.9zM86.7 129.7h0.9v0.9h-0.9zM94.8 131.1h0.9v0.9h-0.9zM83.1 125.0h0.9v0.9h-0.9zM101.4 133.1h0.9v0.9h-0.9zM108.7 133.9h0.9v0.9h-0.9zM83.5 134.3h0.9v0.9h-0.9zM87.3 131.5h0.9v0.9h-0.9zM97.4 126.4h0.9v0.9h-0.9zM94.1 128.1h0.9v0.9h-0.9zM91.5 133.4h0.9v0.9h-0.9zM103.9 129.9h0.9v0.9h-0.9zM87.9 130.5h0.9v0.9h-0.9zM95.1 135.4h0.9v0.9h-0.9zM96.8 130.3h0.9v0.9h-0.9zM89.5 125.3h0.9v0.9h-0.9zM87.6 127.3h0.9v0.9h-0.9zM92.1 133.5h0.9v0.9h-0.9zM93.3 129.4h0.9v0.9h-0.9zM83.5 135.8h0.9v0.9h-0.9zM100.3 140.0h0.9v0.9h-0.9zM103.4 139.3h0.9v0.9h-0.9zM93.9 133.7h0.9v0.9h-0.9zM106.9 141.0h0.9v0.9h-0.9zM100.4 135.3h0.9v0.9h-0.9zM110.1 130.8h0.9v0.9h-0.9zM101.9 128.1h0.9v0.9h-0.9zM90.8 126.9h0.9v0.9h-0.9zM95.4 131.5h0.9v0.9h-0.9zM102.9 125.7h0.9v0.9h-0.9zM115.7 140.5h0.9v0.9h-0.9zM104.6 131.0h0.9v0.9h-0.9zM95.6 133.4h0.9v0.9h-0.9zM102.7 124.4h0.9v0.9h-0.9zM100.8 131.4h0.9v0.9h-0.9zM111.9 128.7h0.9v0.9h-0.9zM97.2 138.1h0.9v0.9h-0.9zM95.4 128.8h0.9v0.9h-0.9zM98.6 129.3h0.9v0.9h-0.9zM113.4 130.3h0.9v0.9h-0.9zM107.0 127.3h0.9v0.9h-0.9zM103.8 132.1h0.9v0.9h-0.9zM86.7 126.8h0.9v0.9h-0.9zM113.5 129.3h0.9v0.9h-0.9zM85.0 135.4h0.9v0.9h-0.9zM96.7 138.3h0.9v0.9h-0.9zM101.1 127.8h0.9v0.9h-0.9zM95.2 136.5h0.9v0.9h-0.9zM106.5 133.1h0.9v0.9h-0.9zM97.6 130.7h0.9v0.9h-0.9zM89.3 138.6h0.9v0.9h-0.9zM98.2 126.0h0.9v0.9h-0.9zM91.5 133.4h0.9v0.9h-0.9zM103.6 131.9h0.9v0.9h-0.9zM90.3 129.8h0.9v0.9h-0.9zM105.5 130.6h0.9v0.9h-0.9zM99.6 137.4h0.9v0.9h-0.9zM103.5 132.6h0.9v0.9h-0.9zM92.7 133.7h0.9v0.9h-0.9zM101.9 128.1h0.9v0.9h-0.9zM97.9 130.5h0.9v0.9h-0.9zM94.6 128.5h0.9v0.9h-0.9zM80.8 126.0h0.9v0.9h-0.9zM96.5 131.5h0.9v0.9h-0.9zM85.0 131.5h0.9v0.9h-0.9zM85.0 127.5h0.9v0.9h-0.9zM110.8 130.8h0.9v0.9h-0.9zM90.8 134.9h0.9v0.9h-0.9zM93.4 128.9h0.9v0.9h-0.9zM98.2 136.3h0.9v0.9h-0.9zM87.9 124.0h0.9v0.9h-0.9zM89.2 125.5h0.9v0.9h-0.9zM100.9 127.7h0.9v0.9h-0.9zM97.8 133.2h0.9v0.9h-0.9zM89.6 130.1h0.9v0.9h-0.9zM113.1 136.0h0.9v0.9h-0.9zM90.7 129.4h0.9v0.9h-0.9zM87.6 130.4h0.9v0.9h-0.9zM106.4 129.2h0.9v0.9h-0.9zM93.8 135.7h0.9v0.9h-0.9zM91.8 130.9h0.9v0.9h-0.9zM87.6 125.2h0.9v0.9h-0.9zM89.8 139.6h0.9v0.9h-0.9zM93.5 127.9h0.9v0.9h-0.9zM91.6 129.2h0.9v0.9h-0.9zM103.2 133.3h0.9v0.9h-0.9zM116.9 136.3h0.9v0.9h-0.9zM110.9 135.3h0.9v0.9h-0.9zM104.3 126.0h0.9v0.9h-0.9zM95.8 130.5h0.9v0.9h-0.9zM106.0 131.2h0.9v0.9h-0.9zM93.0 129.1h0.9v0.9h-0.9zM94.4 132.4h0.9v0.9h-0.9zM85.4 124.4h0.9v0.9h-0.9zM99.7 132.3h0.9v0.9h-0.9zM93.9 127.8h0.9v0.9h-0.9zM88.9 129.1h0.9v0.9h-0.9zM109.5 128.9h0.9v0.9h-0.9zM111.1 138.0h0.9v0.9h-0.9zM91.8 133.6h0.9v0.9h-0.9zM84.8 126.6h0.9v0.9h-0.9zM94.3 128.2h0.9v0.9h-0.9zM103.2 125.9h0.9v0.9h-0.9zM90.9 127.9h0.9v0.9h-0.9zM87.2 129.0h0.9v0.9h-0.9zM102.2 134.8h0.9v0.9h-0.9zM88.0 125.5h0.9v0.9h-0.9zM87.6 131.2h0.9v0.9h-0.9zM93.0 126.6h0.9v0.9h-0.9zM99.4 136.4h0.9v0.9h-0.9zM99.4 136.4h0.9v0.9h-0.9zM97.2 136.8h0.9v0.9h-0.9zM109.3 133.3h0.9v0.9h-0.9zM110.9 134.8h0.9v0.9h-0.9zM98.7 127.2h0.9v0.9h-0.9zM93.4 133.9h0.9v0.9h-0.9zM83.6 131.2h0.9v0.9h-0.9zM100.2 133.0h0.9v0.9h-0.9zM104.1 129.1h0.9v0.9h-0.9zM104.2 129.6h0.9v0.9h-0.9zM107.2 124.8h0.9v0.9h-0.9zM104.0 131.5h0.9v0.9h-0.9zM105.8 128.7h0.9v0.9h-0.9zM88.9 139.7h0.9v0.9h-0.9zM89.5 126.3h0.9v0.9h-0.9zM95.3 126.0h0.9v0.9h-0.9zM107.4 138.4h0.9v0.9h-0.9zM104.0 137.9h0.9v0.9h-0.9zM88.7 128.6h0.9v0.9h-0.9zM107.2 130.2h0.9v0.9h-0.9zM90.0 133.3h0.9v0.9h-0.9zM114.2 137.0h0.9v0.9h-0.9zM84.7 130.2h0.9v0.9h-0.9zM110.9 131.8h0.9v0.9h-0.9zM88.5 134.0h0.9v0.9h-0.9zM99.4 126.5h0.9v0.9h-0.9zM94.0 127.0h0.9v0.9h-0.9zM99.8 132.2h0.9v0.9h-0.9zM107.6 136.6h0.9v0.9h-0.9zM81.3 129.6h0.9v0.9h-0.9zM105.3 135.0h0.9v0.9h-0.9zM107.6 130.8h0.9v0.9h-0.9zM86.8 133.2h0.9v0.9h-0.9zM107.7 130.0h0.9v0.9h-0.9zM95.3 124.3h0.9v0.9h-0.9zM93.1 132.0h0.9v0.9h-0.9zM86.4 123.9h0.9v0.9h-0.9zM103.7 132.2h0.9v0.9h-0.9zM80.2 136.0h0.9v0.9h-0.9zM88.4 130.4h0.9v0.9h-0.9zM97.6 137.7h0.9v0.9h-0.9zM91.6 134.6h0.9v0.9h-0.9zM88.7 134.5h0.9v0.9h-0.9zM89.9 127.9h0.9v0.9h-0.9zM115.2 136.4h0.9v0.9h-0.9zM101.3 128.3h0.9v0.9h-0.9zM105.3 127.4h0.9v0.9h-0.9zM106.9 138.8h0.9v0.9h-0.9zM92.0 127.1h0.9v0.9h-0.9zM98.7 131.5h0.9v0.9h-0.9zM86.9 131.6h0.9v0.9h-0.9zM93.3 129.1h0.9v0.9h-0.9zM101.2 126.3h0.9v0.9h-0.9zM102.9 131.5h0.9v0.9h-0.9zM91.9 123.7h0.9v0.9h-0.9zM85.1 130.2h0.9v0.9h-0.9zM87.5 129.4h0.9v0.9h-0.9zM106.4 137.9h0.9v0.9h-0.9zM112.5 133.0h0.9v0.9h-0.9zM85.4 133.3h0.9v0.9h-0.9zM99.0 136.7h0.9v0.9h-0.9zM96.0 136.4h0.9v0.9h-0.9zM104.6 136.0h0.9v0.9h-0.9zM101.6 133.9h0.9v0.9h-0.9zM99.1 132.6h0.9v0.9h-0.9zM107.2 130.9h0.9v0.9h-0.9zM114.1 134.2h0.9v0.9h-0.9zM106.7 132.8h0.9v0.9h-0.9zM92.7 139.5h0.9v0.9h-0.9zM95.2 124.8h0.9v0.9h-0.9zM90.3 128.2h0.9v0.9h-0.9zM107.1 128.6h0.9v0.9h-0.9zM99.8 134.8h0.9v0.9h-0.9zM115.3 131.8h0.9v0.9h-0.9zM102.6 133.7h0.9v0.9h-0.9zM87.0 128.9h0.9v0.9h-0.9zM102.4 134.7h0.9v0.9h-0.9zM94.0 124.3h0.9v0.9h-0.9zM111.2 135.3h0.9v0.9h-0.9zM105.6 139.4h0.9v0.9h-0.9zM91.1 133.6h0.9v0.9h-0.9zM94.7 130.3h0.9v0.9h-0.9zM96.2 130.9h0.9v0.9h-0.9zM107.8 134.0h0.9v0.9h-0.9zM95.8 129.6h0.9v0.9h-0.9zM101.2 127.9h0.9v0.9h-0.9zM92.1 129.8h0.9v0.9h-0.9zM91.6 129.4h0.9v0.9h-0.9zM89.2 138.7h0.9v0.9h-0.9zM109.6 135.8h0.9v0.9h-0.9zM94.4 140.6h0.9v0.9h-0.9zM100.2 131.4h0.9v0.9h-0.9zM99.7 133.1h0.9v0.9h-0.9zM110.8 133.9h0.9v0.9h-0.9zM104.7 128.1h0.9v0.9h-0.9zM115.1 133.4h0.9v0.9h-0.9zM95.6 135.0h0.9v0.9h-0.9zM110.3 128.8h0.9v0.9h-0.9zM94.9 124.2h0.9v0.9h-0.9zM98.4 130.9h0.9v0.9h-0.9zM94.2 127.4h0.9v0.9h-0.9zM93.9 127.0h0.9v0.9h-0.9zM100.8 138.9h0.9v0.9h-0.9zM92.4 132.4h0.9v0.9h-0.9zM87.8 128.5h0.9v0.9h-0.9zM86.2 132.0h0.9v0.9h-0.9zM98.1 130.6h0.9v0.9h-0.9zM100.9 130.8h0.9v0.9h-0.9zM81.2 130.5h0.9v0.9h-0.9zM100.0 131.0h0.9v0.9h-0.9z" fill="#000" opacity="0.8"/>
<path d="M106.9 134.8h0.9v0.9h-0.9zM91.9 125.5h0.9v0.9h-0.9zM111.2 136.3h0.9v0.9h-0.9zM95.0 124.9h0.9v0.9h-0.9zM95.3 127.1h0.9v0.9h-0.9zM87.6 127.1h0.9v0.9h-0.9zM90.7 123.9h0.9v0.9h-0.9zM107.6 129.1h0.9v0.9h-0.9zM99.0 131.3h0.9v0.9h-0.9zM106.6 130.0h0.9v0.9h-0.9zM100.9 127.3h0.9v0.9h-0.9zM113.3 134.4h0.9v0.9h-0.9zM91.4 127.8h0.9v0.9h-0.9zM105.3 132.2h0.9v0.9h-0.9zM113.5 136.7h0.9v0.9h-0.9zM95.8 128.4h0.9v0.9h-0.9zM89.8 128.2h0.9v0.9h-0.9zM99.5 137.8h0.9v0.9h-0.9zM102.1 123.6h0.9v0.9h-0.9zM94.7 128.8h0.9v0.9h-0.9zM90.7 125.0h0.9v0.9h-0.9zM96.9 130.0h0.9v0.9h-0.9zM99.3 126.7h0.9v0.9h-0.9zM106.5 129.3h0.9v0.9h-0.9zM97.0 124.7h0.9v0.9h-0.9z" fill="#fff" opacity="0.9"/>
<ellipse cx="106.50" cy="135.60" rx="9.60" ry="8.60" fill="none" stroke="#000" stroke-width="1.1" opacity="1"/>
<ellipse cx="92.80" cy="125.00" rx="15.60" ry="5.50" fill="none" stroke="#000" stroke-width="1.1" opacity="1"/>
<ellipse cx="131.50" cy="126.10" rx="21.30" ry="5.35" fill="none" stroke="#000" stroke-width="1.1" opacity="1"/>
<text x="84.4" y="130.00" font-family='"Liberation Serif", serif' font-weight="bold" stroke="#000" stroke-width="0.4" font-size="10.5">II</text>
<path d="M88.9 218.0h0.9v0.9h-0.9zM85.5 215.8h0.9v0.9h-0.9zM94.9 214.9h0.9v0.9h-0.9zM93.0 212.6h0.9v0.9h-0.9zM97.2 219.3h0.9v0.9h-0.9zM92.9 210.7h0.9v0.9h-0.9zM87.8 218.9h0.9v0.9h-0.9zM98.9 216.9h0.9v0.9h-0.9zM97.0 214.2h0.9v0.9h-0.9zM91.2 216.0h0.9v0.9h-0.9zM93.7 211.4h0.9v0.9h-0.9zM95.8 220.0h0.9v0.9h-0.9zM87.4 211.9h0.9v0.9h-0.9zM93.4 214.0h0.9v0.9h-0.9zM82.5 218.4h0.9v0.9h-0.9zM92.6 214.6h0.9v0.9h-0.9zM100.5 216.4h0.9v0.9h-0.9zM89.0 216.3h0.9v0.9h-0.9zM87.8 213.7h0.9v0.9h-0.9zM93.5 214.3h0.9v0.9h-0.9zM90.2 221.0h0.9v0.9h-0.9zM95.4 218.4h0.9v0.9h-0.9zM94.1 217.5h0.9v0.9h-0.9zM97.8 215.9h0.9v0.9h-0.9zM99.4 213.1h0.9v0.9h-0.9zM91.0 211.9h0.9v0.9h-0.9zM90.6 217.6h0.9v0.9h-0.9zM97.8 214.0h0.9v0.9h-0.9zM92.0 214.9h0.9v0.9h-0.9zM89.0 212.4h0.9v0.9h-0.9zM92.2 210.8h0.9v0.9h-0.9zM92.4 216.1h0.9v0.9h-0.9zM89.4 213.0h0.9v0.9h-0.9zM86.5 221.6h0.9v0.9h-0.9zM86.6 220.7h0.9v0.9h-0.9zM94.4 214.9h0.9v0.9h-0.9zM87.4 219.1h0.9v0.9h-0.9zM98.9 213.2h0.9v0.9h-0.9zM90.8 219.2h0.9v0.9h-0.9zM93.3 222.0h0.9v0.9h-0.9zM89.7 217.6h0.9v0.9h-0.9zM87.0 222.3h0.9v0.9h-0.9zM89.1 209.4h0.9v0.9h-0.9zM91.5 215.6h0.9v0.9h-0.9zM99.7 215.0h0.9v0.9h-0.9zM91.9 217.8h0.9v0.9h-0.9zM98.3 215.8h0.9v0.9h-0.9zM96.2 217.6h0.9v0.9h-0.9zM90.8 216.2h0.9v0.9h-0.9zM92.1 213.3h0.9v0.9h-0.9zM96.9 211.8h0.9v0.9h-0.9zM96.7 218.9h0.9v0.9h-0.9zM91.6 213.7h0.9v0.9h-0.9zM91.1 217.4h0.9v0.9h-0.9zM95.0 216.9h0.9v0.9h-0.9zM96.0 214.3h0.9v0.9h-0.9zM92.9 211.3h0.9v0.9h-0.9zM95.1 216.5h0.9v0.9h-0.9zM90.3 219.5h0.9v0.9h-0.9zM92.2 211.6h0.9v0.9h-0.9zM96.3 223.5h0.9v0.9h-0.9zM89.9 216.2h0.9v0.9h-0.9zM91.0 217.1h0.9v0.9h-0.9zM94.6 219.9h0.9v0.9h-0.9zM88.1 220.7h0.9v0.9h-0.9zM88.3 216.8h0.9v0.9h-0.9zM96.6 218.1h0.9v0.9h-0.9zM88.2 213.9h0.9v0.9h-0.9zM90.2 215.8h0.9v0.9h-0.9zM96.6 212.1h0.9v0.9h-0.9zM93.9 217.8h0.9v0.9h-0.9zM94.2 217.4h0.9v0.9h-0.9zM98.1 217.5h0.9v0.9h-0.9zM95.4 217.7h0.9v0.9h-0.9zM99.2 210.3h0.9v0.9h-0.9zM97.1 215.2h0.9v0.9h-0.9zM90.9 213.1h0.9v0.9h-0.9zM84.5 214.9h0.9v0.9h-0.9zM89.3 217.5h0.9v0.9h-0.9zM86.1 220.3h0.9v0.9h-0.9zM93.1 215.3h0.9v0.9h-0.9zM89.2 213.6h0.9v0.9h-0.9zM87.5 214.4h0.9v0.9h-0.9zM92.0 215.5h0.9v0.9h-0.9zM86.3 215.2h0.9v0.9h-0.9zM88.4 216.5h0.9v0.9h-0.9zM99.5 217.9h0.9v0.9h-0.9zM90.7 211.1h0.9v0.9h-0.9zM86.3 210.9h0.9v0.9h-0.9zM126.4 213.0h0.9v0.9h-0.9zM121.5 213.3h0.9v0.9h-0.9zM121.7 218.2h0.9v0.9h-0.9zM115.9 214.0h0.9v0.9h-0.9zM115.0 216.9h0.9v0.9h-0.9zM113.3 212.1h0.9v0.9h-0.9zM110.6 211.4h0.9v0.9h-0.9zM124.5 221.0h0.9v0.9h-0.9zM113.5 217.1h0.9v0.9h-0.9zM122.9 212.2h0.9v0.9h-0.9zM118.9 214.2h0.9v0.9h-0.9zM115.8 219.4h0.9v0.9h-0.9zM106.7 215.7h0.9v0.9h-0.9zM123.5 213.4h0.9v0.9h-0.9zM122.1 216.9h0.9v0.9h-0.9zM122.1 215.8h0.9v0.9h-0.9zM126.2 209.9h0.9v0.9h-0.9zM132.1 220.3h0.9v0.9h-0.9zM128.4 217.2h0.9v0.9h-0.9zM110.4 214.5h0.9v0.9h-0.9zM114.9 213.4h0.9v0.9h-0.9zM128.3 212.9h0.9v0.9h-0.9zM120.0 210.2h0.9v0.9h-0.9zM119.8 215.0h0.9v0.9h-0.9zM115.7 213.1h0.9v0.9h-0.9zM135.1 211.9h0.9v0.9h-0.9zM113.1 212.9h0.9v0.9h-0.9zM130.0 219.8h0.9v0.9h-0.9zM123.5 213.1h0.9v0.9h-0.9zM117.8 217.4h0.9v0.9h-0.9zM114.2 218.3h0.9v0.9h-0.9zM131.6 215.0h0.9v0.9h-0.9zM125.8 216.6h0.9v0.9h-0.9zM132.7 212.3h0.9v0.9h-0.9zM129.9 213.9h0.9v0.9h-0.9zM115.2 215.0h0.9v0.9h-0.9zM119.4 212.4h0.9v0.9h-0.9zM109.0 212.5h0.9v0.9h-0.9zM131.9 219.5h0.9v0.9h-0.9zM125.9 217.6h0.9v0.9h-0.9zM117.1 214.6h0.9v0.9h-0.9zM123.1 212.2h0.9v0.9h-0.9zM113.6 215.0h0.9v0.9h-0.9zM118.6 212.2h0.9v0.9h-0.9zM123.9 214.2h0.9v0.9h-0.9zM128.7 214.8h0.9v0.9h-0.9zM118.7 215.1h0.9v0.9h-0.9zM119.7 213.2h0.9v0.9h-0.9zM118.0 216.6h0.9v0.9h-0.9zM125.8 217.9h0.9v0.9h-0.9zM108.3 213.9h0.9v0.9h-0.9zM117.9 215.2h0.9v0.9h-0.9zM117.6 213.6h0.9v0.9h-0.9zM126.9 215.2h0.9v0.9h-0.9zM112.3 218.0h0.9v0.9h-0.9zM128.5 213.4h0.9v0.9h-0.9zM127.2 213.0h0.9v0.9h-0.9zM129.4 214.3h0.9v0.9h-0.9zM115.0 213.9h0.9v0.9h-0.9zM115.3 215.3h0.9v0.9h-0.9zM122.3 214.9h0.9v0.9h-0.9zM121.7 210.2h0.9v0.9h-0.9zM122.8 217.5h0.9v0.9h-0.9zM123.1 213.9h0.9v0.9h-0.9zM119.7 214.5h0.9v0.9h-0.9zM116.9 213.4h0.9v0.9h-0.9zM114.1 217.7h0.9v0.9h-0.9zM120.9 217.1h0.9v0.9h-0.9zM119.1 215.0h0.9v0.9h-0.9zM119.7 215.9h0.9v0.9h-0.9zM127.2 215.4h0.9v0.9h-0.9zM115.9 212.9h0.9v0.9h-0.9zM133.4 214.1h0.9v0.9h-0.9zM118.8 218.3h0.9v0.9h-0.9zM129.2 216.1h0.9v0.9h-0.9zM118.0 220.4h0.9v0.9h-0.9zM123.9 216.1h0.9v0.9h-0.9zM119.7 211.4h0.9v0.9h-0.9zM111.0 215.8h0.9v0.9h-0.9zM123.9 214.2h0.9v0.9h-0.9zM112.2 211.3h0.9v0.9h-0.9zM118.5 211.3h0.9v0.9h-0.9zM127.7 217.6h0.9v0.9h-0.9zM142.2 216.9h0.9v0.9h-0.9zM116.6 212.7h0.9v0.9h-0.9zM95.1 213.4h0.9v0.9h-0.9zM119.7 217.1h0.9v0.9h-0.9zM125.6 216.2h0.9v0.9h-0.9zM122.6 216.4h0.9v0.9h-0.9zM131.9 212.2h0.9v0.9h-0.9zM117.6 211.5h0.9v0.9h-0.9zM133.1 217.9h0.9v0.9h-0.9zM126.6 211.9h0.9v0.9h-0.9zM122.3 214.2h0.9v0.9h-0.9zM121.6 214.3h0.9v0.9h-0.9zM124.9 213.9h0.9v0.9h-0.9zM127.4 215.4h0.9v0.9h-0.9zM118.8 214.5h0.9v0.9h-0.9zM117.7 216.8h0.9v0.9h-0.9zM119.0 215.5h0.9v0.9h-0.9zM118.1 211.2h0.9v0.9h-0.9zM127.8 212.3h0.9v0.9h-0.9zM126.1 215.8h0.9v0.9h-0.9zM108.6 212.5h0.9v0.9h-0.9zM117.1 212.8h0.9v0.9h-0.9zM112.1 216.6h0.9v0.9h-0.9zM119.2 215.7h0.9v0.9h-0.9zM117.8 215.5h0.9v0.9h-0.9zM115.4 214.7h0.9v0.9h-0.9zM125.4 214.9h0.9v0.9h-0.9zM117.6 212.2h0.9v0.9h-0.9zM122.3 215.6h0.9v0.9h-0.9zM119.1 213.0h0.9v0.9h-0.9zM125.1 220.8h0.9v0.9h-0.9zM118.7 215.6h0.9v0.9h-0.9zM123.8 208.6h0.9v0.9h-0.9zM121.9 213.1h0.9v0.9h-0.9zM131.4 214.2h0.9v0.9h-0.9zM115.2 214.3h0.9v0.9h-0.9zM122.2 213.5h0.9v0.9h-0.9zM120.6 211.6h0.9v0.9h-0.9zM119.3 216.7h0.9v0.9h-0.9zM135.8 216.5h0.9v0.9h-0.9zM123.0 217.6h0.9v0.9h-0.9zM128.6 218.8h0.9v0.9h-0.9zM129.1 214.5h0.9v0.9h-0.9zM122.9 215.2h0.9v0.9h-0.9zM123.3 215.3h0.9v0.9h-0.9zM115.1 209.8h0.9v0.9h-0.9zM116.0 209.9h0.9v0.9h-0.9zM121.5 214.8h0.9v0.9h-0.9zM108.4 216.5h0.9v0.9h-0.9zM127.5 215.0h0.9v0.9h-0.9zM133.5 219.3h0.9v0.9h-0.9zM112.0 217.3h0.9v0.9h-0.9zM124.3 215.8h0.9v0.9h-0.9zM128.0 213.1h0.9v0.9h-0.9zM116.6 212.8h0.9v0.9h-0.9zM115.3 214.6h0.9v0.9h-0.9zM110.1 212.3h0.9v0.9h-0.9zM125.3 214.6h0.9v0.9h-0.9zM123.9 210.3h0.9v0.9h-0.9zM115.1 213.5h0.9v0.9h-0.9zM121.2 213.4h0.9v0.9h-0.9zM128.0 214.7h0.9v0.9h-0.9zM121.1 214.8h0.9v0.9h-0.9zM126.3 213.7h0.9v0.9h-0.9zM129.4 215.9h0.9v0.9h-0.9zM122.2 214.9h0.9v0.9h-0.9zM124.9 217.2h0.9v0.9h-0.9zM128.1 215.7h0.9v0.9h-0.9zM127.6 215.1h0.9v0.9h-0.9zM130.4 214.7h0.9v0.9h-0.9zM105.4 218.0h0.9v0.9h-0.9zM121.8 212.0h0.9v0.9h-0.9zM119.5 212.7h0.9v0.9h-0.9zM136.8 216.0h0.9v0.9h-0.9zM109.2 216.1h0.9v0.9h-0.9zM118.0 219.4h0.9v0.9h-0.9zM113.1 209.4h0.9v0.9h-0.9zM121.5 214.0h0.9v0.9h-0.9zM117.9 209.7h0.9v0.9h-0.9zM124.2 218.8h0.9v0.9h-0.9zM106.7 217.6h0.9v0.9h-0.9zM116.7 220.4h0.9v0.9h-0.9zM124.3 214.3h0.9v0.9h-0.9zM129.3 216.1h0.9v0.9h-0.9zM116.6 216.5h0.9v0.9h-0.9zM117.2 210.5h0.9v0.9h-0.9zM136.2 214.0h0.9v0.9h-0.9zM116.4 215.6h0.9v0.9h-0.9zM109.3 211.6h0.9v0.9h-0.9zM117.3 213.6h0.9v0.9h-0.9zM121.5 217.5h0.9v0.9h-0.9zM117.4 216.0h0.9v0.9h-0.9zM125.5 212.2h0.9v0.9h-0.9zM122.7 212.5h0.9v0.9h-0.9zM129.0 215.9h0.9v0.9h-0.9zM121.1 211.6h0.9v0.9h-0.9zM121.9 213.0h0.9v0.9h-0.9zM126.3 214.5h0.9v0.9h-0.9zM114.9 217.0h0.9v0.9h-0.9zM126.4 213.4h0.9v0.9h-0.9zM129.7 214.1h0.9v0.9h-0.9zM118.7 215.1h0.9v0.9h-0.9zM115.4 213.7h0.9v0.9h-0.9zM119.8 218.5h0.9v0.9h-0.9zM132.2 214.2h0.9v0.9h-0.9zM133.1 214.7h0.9v0.9h-0.9zM123.9 216.9h0.9v0.9h-0.9zM123.2 220.6h0.9v0.9h-0.9zM122.8 211.9h0.9v0.9h-0.9zM130.8 213.8h0.9v0.9h-0.9zM128.5 216.8h0.9v0.9h-0.9zM127.0 217.1h0.9v0.9h-0.9zM133.7 214.7h0.9v0.9h-0.9zM128.0 213.0h0.9v0.9h-0.9zM118.3 217.3h0.9v0.9h-0.9zM123.9 211.6h0.9v0.9h-0.9zM123.7 214.4h0.9v0.9h-0.9zM114.9 215.8h0.9v0.9h-0.9zM118.0 211.0h0.9v0.9h-0.9zM112.7 219.0h0.9v0.9h-0.9zM109.6 215.3h0.9v0.9h-0.9zM125.6 216.3h0.9v0.9h-0.9zM111.8 214.0h0.9v0.9h-0.9zM122.1 216.7h0.9v0.9h-0.9zM116.2 212.0h0.9v0.9h-0.9zM128.5 217.5h0.9v0.9h-0.9zM123.8 213.3h0.9v0.9h-0.9zM124.1 215.1h0.9v0.9h-0.9zM127.3 211.8h0.9v0.9h-0.9zM121.9 214.4h0.9v0.9h-0.9zM112.7 215.3h0.9v0.9h-0.9zM121.3 213.8h0.9v0.9h-0.9zM124.0 211.4h0.9v0.9h-0.9zM120.6 215.8h0.9v0.9h-0.9zM123.1 217.4h0.9v0.9h-0.9zM112.0 211.2h0.9v0.9h-0.9zM122.8 215.9h0.9v0.9h-0.9zM136.9 216.3h0.9v0.9h-0.9zM114.4 216.7h0.9v0.9h-0.9zM114.7 211.2h0.9v0.9h-0.9zM140.6 215.6h0.9v0.9h-0.9zM126.4 216.2h0.9v0.9h-0.9zM134.6 215.5h0.9v0.9h-0.9zM130.1 212.3h0.9v0.9h-0.9zM110.6 218.2h0.9v0.9h-0.9zM132.1 216.0h0.9v0.9h-0.9zM122.7 215.2h0.9v0.9h-0.9zM115.8 218.5h0.9v0.9h-0.9zM125.9 216.0h0.9v0.9h-0.9zM123.8 217.3h0.9v0.9h-0.9zM124.8 216.6h0.9v0.9h-0.9zM112.2 216.0h0.9v0.9h-0.9zM137.4 213.6h0.9v0.9h-0.9zM120.0 216.9h0.9v0.9h-0.9zM128.2 216.3h0.9v0.9h-0.9zM108.9 216.0h0.9v0.9h-0.9zM112.1 212.8h0.9v0.9h-0.9zM125.1 214.1h0.9v0.9h-0.9zM127.1 222.4h0.9v0.9h-0.9zM126.8 216.5h0.9v0.9h-0.9zM114.3 213.3h0.9v0.9h-0.9zM113.0 213.5h0.9v0.9h-0.9zM112.8 213.2h0.9v0.9h-0.9zM119.4 212.4h0.9v0.9h-0.9zM110.4 211.5h0.9v0.9h-0.9zM124.4 214.9h0.9v0.9h-0.9zM128.7 217.3h0.9v0.9h-0.9zM118.4 216.4h0.9v0.9h-0.9zM110.2 220.3h0.9v0.9h-0.9zM130.0 214.3h0.9v0.9h-0.9zM112.3 215.7h0.9v0.9h-0.9zM107.0 212.9h0.9v0.9h-0.9zM126.6 215.0h0.9v0.9h-0.9zM117.3 217.1h0.9v0.9h-0.9zM113.2 215.5h0.9v0.9h-0.9zM117.3 212.8h0.9v0.9h-0.9zM124.5 212.4h0.9v0.9h-0.9zM135.3 213.4h0.9v0.9h-0.9zM135.9 212.2h0.9v0.9h-0.9zM125.5 211.9h0.9v0.9h-0.9zM110.9 215.2h0.9v0.9h-0.9zM126.1 211.7h0.9v0.9h-0.9zM129.9 212.9h0.9v0.9h-0.9zM122.0 215.7h0.9v0.9h-0.9zM125.5 210.5h0.9v0.9h-0.9zM133.1 216.1h0.9v0.9h-0.9zM117.8 212.3h0.9v0.9h-0.9zM108.3 211.5h0.9v0.9h-0.9zM125.1 214.0h0.9v0.9h-0.9zM112.5 213.5h0.9v0.9h-0.9zM132.7 214.0h0.9v0.9h-0.9zM116.6 218.0h0.9v0.9h-0.9zM124.5 214.9h0.9v0.9h-0.9zM116.4 211.1h0.9v0.9h-0.9zM112.2 213.6h0.9v0.9h-0.9zM119.4 215.7h0.9v0.9h-0.9zM125.1 215.3h0.9v0.9h-0.9zM122.7 212.4h0.9v0.9h-0.9zM104.8 213.5h0.9v0.9h-0.9zM113.8 213.2h0.9v0.9h-0.9zM118.9 211.8h0.9v0.9h-0.9zM112.7 214.6h0.9v0.9h-0.9zM121.9 213.2h0.9v0.9h-0.9zM124.7 214.3h0.9v0.9h-0.9zM113.4 214.9h0.9v0.9h-0.9zM135.1 213.2h0.9v0.9h-0.9zM129.7 218.1h0.9v0.9h-0.9zM132.2 212.8h0.9v0.9h-0.9zM136.1 215.1h0.9v0.9h-0.9zM119.1 214.2h0.9v0.9h-0.9zM125.5 214.9h0.9v0.9h-0.9zM119.7 217.9h0.9v0.9h-0.9zM115.6 212.3h0.9v0.9h-0.9zM126.9 216.5h0.9v0.9h-0.9zM129.2 212.2h0.9v0.9h-0.9zM129.1 216.0h0.9v0.9h-0.9zM134.2 211.8h0.9v0.9h-0.9zM122.6 214.1h0.9v0.9h-0.9zM109.1 213.1h0.9v0.9h-0.9zM129.5 213.7h0.9v0.9h-0.9zM115.6 216.9h0.9v0.9h-0.9zM128.4 217.2h0.9v0.9h-0.9zM115.1 214.7h0.9v0.9h-0.9zM128.7 213.2h0.9v0.9h-0.9zM115.4 216.8h0.9v0.9h-0.9zM132.7 212.0h0.9v0.9h-0.9zM101.5 211.3h0.9v0.9h-0.9zM113.4 214.5h0.9v0.9h-0.9zM125.6 214.4h0.9v0.9h-0.9zM115.7 215.2h0.9v0.9h-0.9zM113.8 214.7h0.9v0.9h-0.9zM116.2 221.2h0.9v0.9h-0.9zM127.1 212.8h0.9v0.9h-0.9zM113.5 213.7h0.9v0.9h-0.9zM108.7 213.0h0.9v0.9h-0.9zM115.5 216.9h0.9v0.9h-0.9zM117.8 212.9h0.9v0.9h-0.9zM110.9 212.0h0.9v0.9h-0.9zM120.5 214.3h0.9v0.9h-0.9zM129.5 213.3h0.9v0.9h-0.9zM128.9 215.4h0.9v0.9h-0.9zM121.0 210.0h0.9v0.9h-0.9zM111.3 216.6h0.9v0.9h-0.9zM131.5 215.3h0.9v0.9h-0.9zM126.7 213.8h0.9v0.9h-0.9zM118.2 213.2h0.9v0.9h-0.9zM128.3 215.6h0.9v0.9h-0.9zM119.2 214.0h0.9v0.9h-0.9zM125.2 215.6h0.9v0.9h-0.9zM114.8 218.9h0.9v0.9h-0.9zM122.9 214.8h0.9v0.9h-0.9zM132.1 217.3h0.9v0.9h-0.9zM120.3 216.1h0.9v0.9h-0.9zM113.0 213.3h0.9v0.9h-0.9zM104.0 217.7h0.9v0.9h-0.9zM126.6 214.9h0.9v0.9h-0.9zM133.0 211.5h0.9v0.9h-0.9zM136.8 214.0h0.9v0.9h-0.9zM141.7 217.0h0.9v0.9h-0.9zM140.2 215.3h0.9v0.9h-0.9zM134.4 214.9h0.9v0.9h-0.9zM138.9 212.6h0.9v0.9h-0.9zM137.4 213.4h0.9v0.9h-0.9zM139.1 214.3h0.9v0.9h-0.9zM134.9 212.0h0.9v0.9h-0.9zM142.5 210.1h0.9v0.9h-0.9zM134.3 216.6h0.9v0.9h-0.9zM121.8 212.1h0.9v0.9h-0.9zM142.1 210.2h0.9v0.9h-0.9zM146.6 216.6h0.9v0.9h-0.9zM143.5 213.1h0.9v0.9h-0.9zM140.1 211.7h0.9v0.9h-0.9zM142.9 211.3h0.9v0.9h-0.9zM136.4 215.5h0.9v0.9h-0.9zM131.3 212.8h0.9v0.9h-0.9zM139.0 210.8h0.9v0.9h-0.9zM145.0 214.2h0.9v0.9h-0.9zM128.9 213.4h0.9v0.9h-0.9zM133.3 212.2h0.9v0.9h-0.9zM138.5 212.1h0.9v0.9h-0.9zM143.8 212.1h0.9v0.9h-0.9zM143.9 213.4h0.9v0.9h-0.9zM143.1 212.4h0.9v0.9h-0.9zM135.0 211.2h0.9v0.9h-0.9zM90.9 235.6h0.9v0.9h-0.9zM98.6 238.0h0.9v0.9h-0.9zM89.2 227.5h0.9v0.9h-0.9zM89.9 228.8h0.9v0.9h-0.9zM95.3 235.6h0.9v0.9h-0.9zM83.8 224.2h0.9v0.9h-0.9zM94.8 231.2h0.9v0.9h-0.9zM86.8 237.3h0.9v0.9h-0.9zM86.1 227.0h0.9v0.9h-0.9zM92.3 220.5h0.9v0.9h-0.9zM85.2 223.8h0.9v0.9h-0.9zM91.6 228.5h0.9v0.9h-0.9zM88.1 217.2h0.9v0.9h-0.9zM87.6 218.7h0.9v0.9h-0.9zM89.5 231.6h0.9v0.9h-0.9zM87.9 243.3h0.9v0.9h-0.9zM90.6 233.2h0.9v0.9h-0.9zM88.7 227.7h0.9v0.9h-0.9zM92.8 236.7h0.9v0.9h-0.9zM81.5 236.4h0.9v0.9h-0.9zM90.6 235.7h0.9v0.9h-0.9zM90.3 220.3h0.9v0.9h-0.9zM82.1 241.8h0.9v0.9h-0.9zM89.3 219.1h0.9v0.9h-0.9zM89.7 226.5h0.9v0.9h-0.9zM80.0 230.9h0.9v0.9h-0.9zM87.8 227.3h0.9v0.9h-0.9zM89.4 233.2h0.9v0.9h-0.9zM77.5 226.9h0.9v0.9h-0.9zM83.9 220.4h0.9v0.9h-0.9zM85.3 228.1h0.9v0.9h-0.9zM86.7 218.8h0.9v0.9h-0.9zM85.6 243.1h0.9v0.9h-0.9zM82.7 217.2h0.9v0.9h-0.9zM89.4 233.2h0.9v0.9h-0.9zM90.3 221.2h0.9v0.9h-0.9zM93.0 223.5h0.9v0.9h-0.9zM82.3 224.7h0.9v0.9h-0.9zM87.5 234.0h0.9v0.9h-0.9zM91.1 228.8h0.9v0.9h-0.9zM92.7 229.6h0.9v0.9h-0.9zM92.5 219.2h0.9v0.9h-0.9zM80.1 234.4h0.9v0.9h-0.9zM81.0 226.9h0.9v0.9h-0.9zM87.5 225.6h0.9v0.9h-0.9zM85.7 238.7h0.9v0.9h-0.9zM99.5 229.2h0.9v0.9h-0.9zM87.9 234.1h0.9v0.9h-0.9zM97.1 220.7h0.9v0.9h-0.9zM88.4 227.7h0.9v0.9h-0.9zM90.8 230.1h0.9v0.9h-0.9zM91.3 226.0h0.9v0.9h-0.9zM88.2 224.3h0.9v0.9h-0.9zM84.7 228.0h0.9v0.9h-0.9zM87.3 220.8h0.9v0.9h-0.9zM95.9 228.1h0.9v0.9h-0.9zM81.1 236.7h0.9v0.9h-0.9zM84.3 232.6h0.9v0.9h-0.9zM87.9 230.8h0.9v0.9h-0.9zM88.9 225.0h0.9v0.9h-0.9zM88.2 243.2h0.9v0.9h-0.9zM76.8 229.5h0.9v0.9h-0.9zM90.2 221.6h0.9v0.9h-0.9zM81.1 244.1h0.9v0.9h-0.9zM86.1 243.6h0.9v0.9h-0.9zM90.7 229.5h0.9v0.9h-0.9zM90.4 233.4h0.9v0.9h-0.9zM83.5 217.7h0.9v0.9h-0.9zM80.4 216.7h0.9v0.9h-0.9zM84.1 219.3h0.9v0.9h-0.9zM77.0 213.5h0.9v0.9h-0.9zM81.0 213.5h0.9v0.9h-0.9zM79.2 217.7h0.9v0.9h-0.9zM83.0 216.0h0.9v0.9h-0.9zM86.2 215.7h0.9v0.9h-0.9zM89.6 220.0h0.9v0.9h-0.9zM81.5 214.0h0.9v0.9h-0.9zM80.5 223.7h0.9v0.9h-0.9zM79.2 218.9h0.9v0.9h-0.9zM79.0 218.7h0.9v0.9h-0.9zM82.8 218.8h0.9v0.9h-0.9zM81.8 220.0h0.9v0.9h-0.9zM83.3 215.9h0.9v0.9h-0.9zM84.0 218.8h0.9v0.9h-0.9zM80.3 214.3h0.9v0.9h-0.9zM80.1 216.1h0.9v0.9h-0.9zM79.0 213.2h0.9v0.9h-0.9zM86.5 216.9h0.9v0.9h-0.9zM77.8 218.9h0.9v0.9h-0.9zM82.3 215.1h0.9v0.9h-0.9zM93.3 264.0h0.9v0.9h-0.9zM94.3 260.9h0.9v0.9h-0.9zM90.0 260.2h0.9v0.9h-0.9zM111.7 245.4h0.9v0.9h-0.9zM111.5 258.6h0.9v0.9h-0.9zM98.0 234.7h0.9v0.9h-0.9zM114.1 254.2h0.9v0.9h-0.9zM105.0 229.7h0.9v0.9h-0.9zM106.5 266.6h0.9v0.9h-0.9zM88.6 263.2h0.9v0.9h-0.9zM87.4 234.6h0.9v0.9h-0.9zM86.8 258.7h0.9v0.9h-0.9zM116.2 260.9h0.9v0.9h-0.9zM111.4 229.7h0.9v0.9h-0.9z" fill="#000" opacity="0.6"/>
<path d="M92 211.5 C95 209 102 208.6 110 209 C118 209.4 124 210.2 127.5 212.2 C129 214.5 125.5 216.8 119 218.5 C112 220 102 221 96 219.5 C92 218.5 90.5 215 92 211.5Z" fill="#000" opacity="0.75"/>
<ellipse cx="105.00" cy="220.00" rx="10.80" ry="9.30" fill="#000" stroke="#000" stroke-width="0" opacity="1"/>
<path d="M113.0 221.1h0.9v0.9h-0.9zM123.0 219.6h0.9v0.9h-0.9zM113.8 226.0h0.9v0.9h-0.9zM116.1 215.5h0.9v0.9h-0.9zM101.7 218.6h0.9v0.9h-0.9zM92.0 219.8h0.9v0.9h-0.9zM116.4 216.2h0.9v0.9h-0.9zM127.7 218.1h0.9v0.9h-0.9zM101.7 216.5h0.9v0.9h-0.9zM95.4 219.7h0.9v0.9h-0.9zM103.6 227.1h0.9v0.9h-0.9zM111.1 221.5h0.9v0.9h-0.9zM101.9 210.1h0.9v0.9h-0.9zM103.3 213.3h0.9v0.9h-0.9zM115.4 218.6h0.9v0.9h-0.9zM123.7 223.4h0.9v0.9h-0.9zM113.9 220.0h0.9v0.9h-0.9zM106.2 221.8h0.9v0.9h-0.9zM115.3 214.9h0.9v0.9h-0.9zM103.0 216.5h0.9v0.9h-0.9zM96.3 209.5h0.9v0.9h-0.9zM118.2 219.3h0.9v0.9h-0.9zM106.9 228.4h0.9v0.9h-0.9zM116.4 222.3h0.9v0.9h-0.9zM108.6 221.0h0.9v0.9h-0.9zM103.1 226.7h0.9v0.9h-0.9zM111.2 220.4h0.9v0.9h-0.9zM118.6 224.0h0.9v0.9h-0.9zM109.4 220.2h0.9v0.9h-0.9zM124.9 222.3h0.9v0.9h-0.9zM103.3 213.2h0.9v0.9h-0.9zM100.3 212.0h0.9v0.9h-0.9zM105.2 219.5h0.9v0.9h-0.9zM111.7 219.5h0.9v0.9h-0.9zM92.1 224.2h0.9v0.9h-0.9zM96.2 210.7h0.9v0.9h-0.9zM91.1 217.0h0.9v0.9h-0.9zM115.3 225.2h0.9v0.9h-0.9zM107.0 211.6h0.9v0.9h-0.9zM96.5 212.5h0.9v0.9h-0.9zM105.1 221.6h0.9v0.9h-0.9zM102.1 220.4h0.9v0.9h-0.9zM93.3 209.2h0.9v0.9h-0.9zM95.9 223.8h0.9v0.9h-0.9zM116.5 216.4h0.9v0.9h-0.9zM118.5 217.2h0.9v0.9h-0.9zM121.9 221.9h0.9v0.9h-0.9zM98.3 222.0h0.9v0.9h-0.9zM95.1 212.2h0.9v0.9h-0.9zM86.5 218.2h0.9v0.9h-0.9zM103.4 217.5h0.9v0.9h-0.9zM98.5 225.5h0.9v0.9h-0.9zM99.2 213.7h0.9v0.9h-0.9zM118.4 226.8h0.9v0.9h-0.9zM108.7 208.7h0.9v0.9h-0.9zM96.6 220.9h0.9v0.9h-0.9zM103.6 226.5h0.9v0.9h-0.9zM87.4 220.6h0.9v0.9h-0.9zM96.0 224.7h0.9v0.9h-0.9zM102.7 223.6h0.9v0.9h-0.9zM96.8 209.7h0.9v0.9h-0.9zM90.9 213.7h0.9v0.9h-0.9zM91.3 223.7h0.9v0.9h-0.9zM119.9 220.6h0.9v0.9h-0.9zM91.7 216.5h0.9v0.9h-0.9zM95.2 225.4h0.9v0.9h-0.9zM107.6 220.9h0.9v0.9h-0.9zM95.2 211.2h0.9v0.9h-0.9zM108.4 218.8h0.9v0.9h-0.9zM94.6 215.2h0.9v0.9h-0.9zM123.1 214.0h0.9v0.9h-0.9zM93.1 216.0h0.9v0.9h-0.9zM95.8 215.1h0.9v0.9h-0.9zM109.7 227.9h0.9v0.9h-0.9zM104.5 217.6h0.9v0.9h-0.9zM101.9 216.0h0.9v0.9h-0.9zM116.2 216.3h0.9v0.9h-0.9zM102.5 217.9h0.9v0.9h-0.9zM105.4 217.2h0.9v0.9h-0.9zM116.0 218.8h0.9v0.9h-0.9zM106.1 217.9h0.9v0.9h-0.9zM92.3 212.6h0.9v0.9h-0.9zM91.4 218.2h0.9v0.9h-0.9zM95.9 211.6h0.9v0.9h-0.9zM106.6 221.1h0.9v0.9h-0.9zM104.4 217.5h0.9v0.9h-0.9zM116.7 219.3h0.9v0.9h-0.9zM95.9 229.5h0.9v0.9h-0.9zM91.2 216.6h0.9v0.9h-0.9zM114.6 212.8h0.9v0.9h-0.9zM102.6 220.0h0.9v0.9h-0.9zM103.2 221.6h0.9v0.9h-0.9zM105.4 211.5h0.9v0.9h-0.9zM108.8 218.9h0.9v0.9h-0.9zM108.9 224.6h0.9v0.9h-0.9zM116.0 221.1h0.9v0.9h-0.9zM108.1 212.2h0.9v0.9h-0.9zM102.3 219.1h0.9v0.9h-0.9zM99.2 218.2h0.9v0.9h-0.9zM93.5 225.7h0.9v0.9h-0.9zM108.9 217.1h0.9v0.9h-0.9zM119.0 221.4h0.9v0.9h-0.9zM105.0 216.8h0.9v0.9h-0.9zM105.9 212.6h0.9v0.9h-0.9zM112.4 214.6h0.9v0.9h-0.9zM110.4 219.2h0.9v0.9h-0.9zM117.1 218.8h0.9v0.9h-0.9zM116.6 213.8h0.9v0.9h-0.9zM111.4 217.3h0.9v0.9h-0.9zM106.3 218.6h0.9v0.9h-0.9zM108.4 210.1h0.9v0.9h-0.9zM124.1 212.3h0.9v0.9h-0.9zM105.6 215.2h0.9v0.9h-0.9zM112.0 217.5h0.9v0.9h-0.9zM115.4 216.8h0.9v0.9h-0.9zM104.2 215.9h0.9v0.9h-0.9zM107.4 228.7h0.9v0.9h-0.9zM108.3 219.4h0.9v0.9h-0.9zM96.9 213.3h0.9v0.9h-0.9zM122.0 213.1h0.9v0.9h-0.9zM93.1 216.7h0.9v0.9h-0.9zM98.1 228.4h0.9v0.9h-0.9zM113.0 212.4h0.9v0.9h-0.9zM96.1 219.8h0.9v0.9h-0.9zM123.9 214.3h0.9v0.9h-0.9zM122.4 217.4h0.9v0.9h-0.9zM101.2 224.0h0.9v0.9h-0.9zM103.6 215.9h0.9v0.9h-0.9zM98.0 225.7h0.9v0.9h-0.9zM92.1 227.0h0.9v0.9h-0.9zM100.1 210.2h0.9v0.9h-0.9zM104.1 217.4h0.9v0.9h-0.9zM103.0 215.3h0.9v0.9h-0.9zM100.5 215.2h0.9v0.9h-0.9zM108.3 213.8h0.9v0.9h-0.9zM100.6 217.0h0.9v0.9h-0.9zM119.5 221.1h0.9v0.9h-0.9zM102.5 220.9h0.9v0.9h-0.9zM108.4 224.3h0.9v0.9h-0.9zM109.4 228.3h0.9v0.9h-0.9zM120.1 218.9h0.9v0.9h-0.9zM98.7 222.5h0.9v0.9h-0.9zM110.2 217.9h0.9v0.9h-0.9zM107.9 222.5h0.9v0.9h-0.9zM114.1 211.6h0.9v0.9h-0.9zM116.6 215.9h0.9v0.9h-0.9zM108.5 220.6h0.9v0.9h-0.9zM94.6 214.1h0.9v0.9h-0.9zM104.4 223.1h0.9v0.9h-0.9zM108.5 214.8h0.9v0.9h-0.9zM108.3 216.1h0.9v0.9h-0.9zM111.2 220.2h0.9v0.9h-0.9zM92.2 217.2h0.9v0.9h-0.9zM104.8 216.4h0.9v0.9h-0.9zM114.1 228.1h0.9v0.9h-0.9zM99.7 215.8h0.9v0.9h-0.9zM107.2 221.5h0.9v0.9h-0.9zM95.4 215.3h0.9v0.9h-0.9zM92.1 221.4h0.9v0.9h-0.9zM127.3 219.9h0.9v0.9h-0.9zM109.7 217.6h0.9v0.9h-0.9zM90.0 216.8h0.9v0.9h-0.9zM109.3 212.7h0.9v0.9h-0.9zM107.6 225.1h0.9v0.9h-0.9zM117.4 210.2h0.9v0.9h-0.9zM116.6 222.2h0.9v0.9h-0.9zM112.8 213.8h0.9v0.9h-0.9zM90.0 217.4h0.9v0.9h-0.9zM105.5 213.4h0.9v0.9h-0.9zM105.5 221.7h0.9v0.9h-0.9zM107.1 212.5h0.9v0.9h-0.9zM106.1 216.7h0.9v0.9h-0.9zM99.1 213.8h0.9v0.9h-0.9zM112.6 218.3h0.9v0.9h-0.9zM105.8 212.8h0.9v0.9h-0.9zM96.5 218.4h0.9v0.9h-0.9zM92.4 210.2h0.9v0.9h-0.9zM99.6 224.3h0.9v0.9h-0.9zM105.7 226.2h0.9v0.9h-0.9zM102.5 216.2h0.9v0.9h-0.9zM87.6 213.7h0.9v0.9h-0.9zM121.1 221.0h0.9v0.9h-0.9zM112.5 222.5h0.9v0.9h-0.9zM104.0 216.9h0.9v0.9h-0.9zM105.2 221.8h0.9v0.9h-0.9zM109.3 221.1h0.9v0.9h-0.9zM106.1 213.9h0.9v0.9h-0.9zM101.2 212.6h0.9v0.9h-0.9zM100.5 230.9h0.9v0.9h-0.9zM100.3 211.5h0.9v0.9h-0.9zM103.3 225.1h0.9v0.9h-0.9zM101.8 221.2h0.9v0.9h-0.9zM105.3 216.0h0.9v0.9h-0.9zM97.8 214.9h0.9v0.9h-0.9zM108.4 220.6h0.9v0.9h-0.9zM113.2 219.4h0.9v0.9h-0.9zM86.7 219.7h0.9v0.9h-0.9zM100.4 216.2h0.9v0.9h-0.9zM86.5 213.6h0.9v0.9h-0.9zM95.3 217.2h0.9v0.9h-0.9zM86.6 217.1h0.9v0.9h-0.9zM105.9 212.0h0.9v0.9h-0.9zM96.9 212.8h0.9v0.9h-0.9zM100.5 208.6h0.9v0.9h-0.9zM98.5 222.3h0.9v0.9h-0.9zM96.4 218.2h0.9v0.9h-0.9zM93.1 227.9h0.9v0.9h-0.9zM114.5 224.9h0.9v0.9h-0.9zM88.5 210.8h0.9v0.9h-0.9zM117.0 217.8h0.9v0.9h-0.9zM100.8 219.6h0.9v0.9h-0.9zM88.7 221.2h0.9v0.9h-0.9zM104.0 220.6h0.9v0.9h-0.9zM95.8 220.3h0.9v0.9h-0.9zM95.2 222.6h0.9v0.9h-0.9zM117.2 223.9h0.9v0.9h-0.9zM109.9 221.9h0.9v0.9h-0.9zM100.7 218.3h0.9v0.9h-0.9zM101.1 210.1h0.9v0.9h-0.9zM97.3 221.2h0.9v0.9h-0.9zM121.2 215.8h0.9v0.9h-0.9zM92.6 225.2h0.9v0.9h-0.9zM92.6 228.6h0.9v0.9h-0.9zM104.9 213.2h0.9v0.9h-0.9zM115.1 228.1h0.9v0.9h-0.9zM86.2 225.4h0.9v0.9h-0.9zM100.1 225.9h0.9v0.9h-0.9zM100.1 209.0h0.9v0.9h-0.9zM109.7 223.5h0.9v0.9h-0.9zM112.4 217.3h0.9v0.9h-0.9zM97.9 215.9h0.9v0.9h-0.9zM94.2 215.8h0.9v0.9h-0.9zM113.3 216.0h0.9v0.9h-0.9zM111.2 211.7h0.9v0.9h-0.9zM121.0 222.5h0.9v0.9h-0.9zM90.0 216.7h0.9v0.9h-0.9zM115.2 221.5h0.9v0.9h-0.9zM108.9 213.6h0.9v0.9h-0.9zM96.3 218.0h0.9v0.9h-0.9zM115.3 214.2h0.9v0.9h-0.9zM90.1 223.3h0.9v0.9h-0.9zM92.5 223.1h0.9v0.9h-0.9zM106.6 223.0h0.9v0.9h-0.9zM124.6 223.2h0.9v0.9h-0.9zM113.6 213.6h0.9v0.9h-0.9zM95.4 221.0h0.9v0.9h-0.9zM121.8 226.9h0.9v0.9h-0.9zM106.0 223.7h0.9v0.9h-0.9zM104.3 217.7h0.9v0.9h-0.9zM91.1 222.6h0.9v0.9h-0.9zM91.0 219.9h0.9v0.9h-0.9zM86.6 222.8h0.9v0.9h-0.9zM91.4 221.8h0.9v0.9h-0.9zM118.4 214.6h0.9v0.9h-0.9zM105.0 215.4h0.9v0.9h-0.9zM109.6 212.3h0.9v0.9h-0.9zM111.2 214.1h0.9v0.9h-0.9zM92.0 217.2h0.9v0.9h-0.9zM95.0 230.0h0.9v0.9h-0.9zM98.1 219.7h0.9v0.9h-0.9zM117.8 216.9h0.9v0.9h-0.9zM106.8 213.1h0.9v0.9h-0.9zM107.7 219.5h0.9v0.9h-0.9zM86.8 226.3h0.9v0.9h-0.9zM116.6 223.6h0.9v0.9h-0.9zM90.0 214.8h0.9v0.9h-0.9zM97.6 215.3h0.9v0.9h-0.9zM90.4 219.4h0.9v0.9h-0.9zM106.6 220.2h0.9v0.9h-0.9zM97.4 224.7h0.9v0.9h-0.9zM96.4 217.2h0.9v0.9h-0.9zM115.7 217.2h0.9v0.9h-0.9zM101.3 214.2h0.9v0.9h-0.9zM112.1 216.1h0.9v0.9h-0.9zM97.1 213.4h0.9v0.9h-0.9zM110.9 215.5h0.9v0.9h-0.9zM95.5 219.4h0.9v0.9h-0.9zM108.0 224.9h0.9v0.9h-0.9z" fill="#000" opacity="0.8"/>
<path d="M117.5 214.7h0.9v0.9h-0.9zM104.2 211.8h0.9v0.9h-0.9zM124.5 218.8h0.9v0.9h-0.9zM121.3 215.7h0.9v0.9h-0.9zM107.0 217.5h0.9v0.9h-0.9zM106.6 219.6h0.9v0.9h-0.9zM111.9 210.6h0.9v0.9h-0.9zM118.0 214.9h0.9v0.9h-0.9zM100.9 223.9h0.9v0.9h-0.9zM116.1 215.6h0.9v0.9h-0.9zM111.9 216.7h0.9v0.9h-0.9zM92.3 213.8h0.9v0.9h-0.9zM92.2 217.9h0.9v0.9h-0.9zM115.0 221.1h0.9v0.9h-0.9zM97.9 217.9h0.9v0.9h-0.9zM112.1 215.0h0.9v0.9h-0.9zM104.4 225.5h0.9v0.9h-0.9zM108.3 220.5h0.9v0.9h-0.9zM101.2 217.2h0.9v0.9h-0.9zM119.1 225.4h0.9v0.9h-0.9zM119.2 219.7h0.9v0.9h-0.9zM106.6 214.6h0.9v0.9h-0.9zM104.2 219.5h0.9v0.9h-0.9zM97.4 220.7h0.9v0.9h-0.9zM95.2 209.9h0.9v0.9h-0.9zM94.9 210.3h0.9v0.9h-0.9zM90.9 221.5h0.9v0.9h-0.9z" fill="#fff" opacity="0.9"/>
<ellipse cx="105.50" cy="222.50" rx="9.80" ry="9.30" fill="none" stroke="#000" stroke-width="1.1" opacity="1"/>
<ellipse cx="92.00" cy="211.90" rx="15.50" ry="4.90" fill="none" stroke="#000" stroke-width="1.1" opacity="1"/>
<ellipse cx="130.90" cy="213.80" rx="20.80" ry="5.60" fill="none" stroke="#000" stroke-width="1.1" opacity="1"/>
<text x="84.2" y="216.80" font-family='"Liberation Serif", serif' font-weight="bold" stroke="#000" stroke-width="0.45" font-size="10.5">II</text>
<text x="24.6" y="260.6" font-family='"Liberation Serif", serif' font-weight="bold" stroke="#000" stroke-width="0.28" font-size="10.9">CD8</text>
<text x="118.0" y="292.0" font-family='"Liberation Serif", serif' font-weight="bold" stroke="#000" stroke-width="0.28" font-size="11">CD28</text>
<path d="M35.8 269.2V287.5H98.5" stroke="#111" stroke-width="1.0" fill="none"/>
<path d="M287.6 66.2H518.3V226.8" stroke="#3a3a3a" stroke-width="1.2" fill="none"/>
<path d="M287.6 66.2V223.3H518.3" stroke="#111" stroke-width="1.2" fill="none"/>
<text x="275.0" y="227.00" font-family='"Liberation Serif", serif' font-size="11" stroke="#000" stroke-width="0.25" text-anchor="end">0</text>
<text x="275.0" y="209.54" font-family='"Liberation Serif", serif' font-size="11" stroke="#000" stroke-width="0.25" text-anchor="end">5</text>
<text x="275.0" y="192.09" font-family='"Liberation Serif", serif' font-size="11" stroke="#000" stroke-width="0.25" text-anchor="end">10</text>
<text x="275.0" y="174.63" font-family='"Liberation Serif", serif' font-size="11" stroke="#000" stroke-width="0.25" text-anchor="end">15</text>
<text x="275.0" y="157.18" font-family='"Liberation Serif", serif' font-size="11" stroke="#000" stroke-width="0.25" text-anchor="end">20</text>
<text x="275.0" y="139.72" font-family='"Liberation Serif", serif' font-size="11" stroke="#000" stroke-width="0.25" text-anchor="end">25</text>
<text x="275.0" y="122.27" font-family='"Liberation Serif", serif' font-size="11" stroke="#000" stroke-width="0.25" text-anchor="end">30</text>
<text x="275.0" y="104.81" font-family='"Liberation Serif", serif' font-size="11" stroke="#000" stroke-width="0.25" text-anchor="end">35</text>
<text x="275.0" y="87.36" font-family='"Liberation Serif", serif' font-size="11" stroke="#000" stroke-width="0.25" text-anchor="end">40</text>
<text x="275.0" y="69.90" font-family='"Liberation Serif", serif' font-size="11" stroke="#000" stroke-width="0.25" text-anchor="end">45</text>
<path d="M284.1 223.30H287.6M284.1 205.84H287.6M284.1 188.39H287.6M284.1 170.93H287.6M284.1 153.48H287.6M284.1 136.02H287.6M284.1 118.57H287.6M284.1 101.11H287.6M284.1 83.66H287.6M284.1 66.20H287.6M287.60 223.3V226.8M345.27 223.3V226.8M402.95 223.3V226.8M460.62 223.3V226.8M518.30 223.3V226.8" stroke="#000" stroke-width="0.9" fill="none"/>
<text x="316.70" y="244.4" font-family='"Liberation Serif", serif' font-size="11" stroke="#000" stroke-width="0.25" text-anchor="middle">1</text>
<text x="374.50" y="244.4" font-family='"Liberation Serif", serif' font-size="11" stroke="#000" stroke-width="0.25" text-anchor="middle">2</text>
<text x="431.90" y="244.4" font-family='"Liberation Serif", serif' font-size="11" stroke="#000" stroke-width="0.25" text-anchor="middle">5</text>
<text x="489.70" y="244.4" font-family='"Liberation Serif", serif' font-size="11" stroke="#000" stroke-width="0.25" text-anchor="middle">10</text>
<text x="399.0" y="265.3" font-family='"Liberation Serif", serif' font-weight="bold" stroke="#000" stroke-width="0.28" font-size="11" text-anchor="middle">E/T Ratio</text>
<text transform="translate(252.8 157.4) rotate(-90)" font-family='"Liberation Serif", serif' font-weight="bold" stroke="#000" stroke-width="0.28" font-size="10.9" text-anchor="middle">% Specific lysis</text>
<polyline points="316.50,181.41 374.30,138.47 431.70,87.50 489.50,72.83" fill="none" stroke="#000" stroke-width="1.2"/>
<polyline points="316.50,203.40 374.30,190.13 431.70,135.67 489.50,123.11" fill="none" stroke="#000" stroke-width="1.6" stroke-dasharray="6 3.6" stroke-dashoffset="2"/>
<polyline points="316.50,213.18 374.30,207.76 431.70,189.79 489.50,177.22" fill="none" stroke="#000" stroke-width="1.2"/>
<circle cx="316.50" cy="181.41" r="3.1" fill="#000"/>
<circle cx="374.30" cy="138.47" r="3.1" fill="#000"/>
<circle cx="431.70" cy="87.50" r="3.1" fill="#000"/>
<circle cx="489.50" cy="72.83" r="3.1" fill="#000"/>
<circle cx="316.50" cy="203.40" r="2.8" fill="#fff" stroke="#000" stroke-width="1.1"/>
<circle cx="374.30" cy="190.13" r="2.8" fill="#fff" stroke="#000" stroke-width="1.1"/>
<circle cx="431.70" cy="135.67" r="2.8" fill="#fff" stroke="#000" stroke-width="1.1"/>
<circle cx="489.50" cy="123.11" r="2.8" fill="#fff" stroke="#000" stroke-width="1.1"/>
<rect x="313.50" y="210.18" width="6" height="6" fill="#000"/>
<rect x="371.30" y="204.76" width="6" height="6" fill="#000"/>
<rect x="428.70" y="186.79" width="6" height="6" fill="#000"/>
<rect x="486.50" y="174.22" width="6" height="6" fill="#000"/>
<line x1="299.1" y1="79.9" x2="323.8" y2="79.9" stroke="#000" stroke-width="1.3"/>
<circle cx="310.9" cy="79.9" r="2.9" fill="#000"/>
<path d="M295.9 93.3H302.4M306.8 93.3H309M313.5 93.3H314.5M318 93.3H324.5M329 93.3H330.5" stroke="#000" stroke-width="1.8" fill="none"/>
<circle cx="311.3" cy="93.3" r="2.3" fill="#fff" stroke="#000" stroke-width="1.5"/>
<line x1="299.8" y1="105.9" x2="324.5" y2="105.9" stroke="#000" stroke-width="1.3"/>
<rect x="308.6" y="103.0" width="5.8" height="5.8" fill="#000"/>
<text x="335.8" y="83.4" font-family='"Liberation Serif", serif' font-weight="bold" stroke="#000" stroke-width="0.28" font-size="10.8">Subset III</text>
<text x="335.9" y="96.6" font-family='"Liberation Serif", serif' font-weight="bold" stroke="#000" stroke-width="0.28" font-size="10.8">Subset <tspan dx="1.6">II</tspan></text>
<text x="336.6" y="109.4" font-family='"Liberation Serif", serif' font-weight="bold" stroke="#000" stroke-width="0.28" font-size="10.8">Subset I</text>
</g>
</svg>
</body></html>
